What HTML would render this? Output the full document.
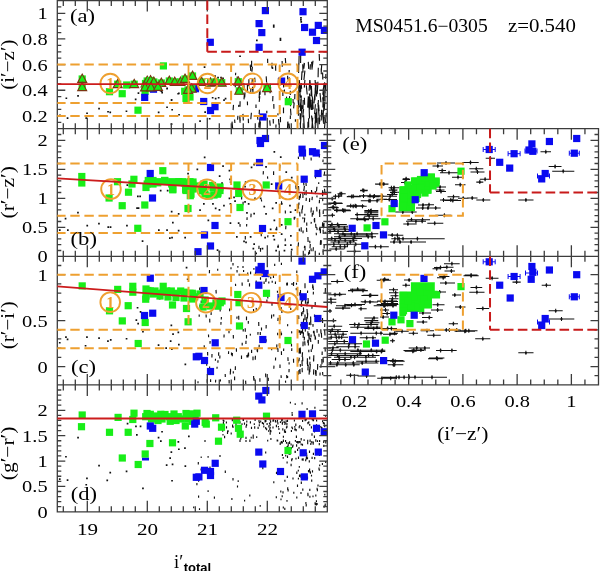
<!DOCTYPE html>
<html><head><meta charset="utf-8"><title>MS0451.6-0305 colour-magnitude diagrams</title><style>html,body{margin:0;padding:0;background:#fff;overflow:hidden}svg{display:block}</style></head><body>
<svg width="600" height="571" viewBox="0 0 600 571" font-family="Liberation Serif, serif">
<rect width="600" height="571" fill="#fff"/>
<path d="M65.5 97.4h1.7v1.7h-1.7zM77.2 95.0h1.7v1.7h-1.7zM98.2 107.7h1.7v1.7h-1.7zM107.2 110.9h1.7v1.7h-1.7zM109.4 111.5h1.7v1.7h-1.7zM86.2 112.4h1.7v1.7h-1.7zM125.6 110.4h1.7v1.7h-1.7zM134.8 98.6h1.7v1.7h-1.7zM66.7 117.2h1.7v1.7h-1.7zM85.4 117.2h1.7v1.7h-1.7zM59.1 114.5h1.7v1.7h-1.7zM203.7 66.2h1.7v1.7h-1.7zM214.2 75.2h1.7v1.7h-1.7zM217.2 76.7h1.7v1.7h-1.7zM220.2 76.7h1.7v1.7h-1.7zM222.2 77.4h1.7v1.7h-1.7zM160.8 90.2h1.7v1.7h-1.7zM166.2 87.9h1.7v1.7h-1.7zM177.3 92.9h1.7v1.7h-1.7zM170.7 99.2h1.7v1.7h-1.7zM166.2 106.4h1.7v1.7h-1.7zM157.8 111.5h1.7v1.7h-1.7zM171.3 108.9h1.7v1.7h-1.7zM178.2 113.9h1.7v1.7h-1.7zM204.3 111.2h1.7v1.7h-1.7zM211.8 96.9h1.7v1.7h-1.7zM214.8 97.7h1.7v1.7h-1.7zM217.8 96.9h1.7v1.7h-1.7zM223.2 99.2h1.7v1.7h-1.7zM224.7 97.7h1.7v1.7h-1.7zM199.2 120.2h1.7v1.7h-1.7zM208.8 117.9h1.7v1.7h-1.7zM170.7 123.2h1.7v1.7h-1.7zM137.6 92.2h1.7v1.7h-1.7zM159.7 89.7h1.7v1.7h-1.7zM161.3 91.8h1.7v1.7h-1.7zM166.3 87.6h1.7v1.7h-1.7zM178.0 92.6h1.7v1.7h-1.7zM170.8 98.9h1.7v1.7h-1.7zM272.9 24.4h1.7v1.7h-1.7zM272.9 26.1h1.7v1.7h-1.7zM279.6 37.8h1.7v1.7h-1.7zM279.6 39.4h1.7v1.7h-1.7zM256.0 39.6h1.7v1.7h-1.7zM239.2 55.4h1.7v1.7h-1.7zM300.1 17.1h1.7v1.7h-1.7zM300.1 19.1h1.7v1.7h-1.7zM300.4 21.1h1.7v1.7h-1.7zM77.1 211.7h1.7v1.7h-1.7zM64.7 217.7h1.7v1.7h-1.7zM58.9 229.2h1.7v1.7h-1.7zM67.0 229.2h1.7v1.7h-1.7zM86.4 224.7h1.7v1.7h-1.7zM98.1 222.8h1.7v1.7h-1.7zM107.4 226.3h1.7v1.7h-1.7zM109.7 226.3h1.7v1.7h-1.7zM126.1 224.7h1.7v1.7h-1.7zM136.2 207.2h1.7v1.7h-1.7zM137.7 207.2h1.7v1.7h-1.7zM137.0 195.6h1.7v1.7h-1.7zM139.3 195.6h1.7v1.7h-1.7zM126.5 184.3h1.7v1.7h-1.7zM141.7 240.3h1.7v1.7h-1.7zM158.0 229.2h1.7v1.7h-1.7zM166.2 229.2h1.7v1.7h-1.7zM159.8 189.7h1.7v1.7h-1.7zM166.8 189.7h1.7v1.7h-1.7zM170.8 210.7h1.7v1.7h-1.7zM177.8 213.1h1.7v1.7h-1.7zM172.0 221.7h1.7v1.7h-1.7zM177.8 229.8h1.7v1.7h-1.7zM169.0 237.2h1.7v1.7h-1.7zM171.2 236.8h1.7v1.7h-1.7zM184.3 236.8h1.7v1.7h-1.7zM187.2 172.7h1.7v1.7h-1.7zM203.8 156.6h1.7v1.7h-1.7zM273.5 151.1h1.7v1.7h-1.7zM279.9 156.2h1.7v1.7h-1.7zM196.5 168.5h1.7v1.7h-1.7zM222.2 165.3h1.7v1.7h-1.7zM228.6 169.8h1.7v1.7h-1.7zM218.8 175.2h1.7v1.7h-1.7zM229.2 178.6h1.7v1.7h-1.7zM229.8 181.2h1.7v1.7h-1.7zM250.7 166.6h1.7v1.7h-1.7zM253.3 163.8h1.7v1.7h-1.7zM265.2 166.1h1.7v1.7h-1.7zM285.4 171.2h1.7v1.7h-1.7zM290.9 176.7h1.7v1.7h-1.7zM221.2 182.2h1.7v1.7h-1.7zM244.2 185.8h1.7v1.7h-1.7zM270.8 183.2h1.7v1.7h-1.7zM203.0 203.0h1.7v1.7h-1.7zM212.1 203.0h1.7v1.7h-1.7zM199.2 209.3h1.7v1.7h-1.7zM214.8 207.5h1.7v1.7h-1.7zM218.6 209.0h1.7v1.7h-1.7zM223.1 204.8h1.7v1.7h-1.7zM228.6 197.5h1.7v1.7h-1.7zM229.6 203.0h1.7v1.7h-1.7zM233.2 196.5h1.7v1.7h-1.7zM234.2 200.2h1.7v1.7h-1.7zM244.2 201.1h1.7v1.7h-1.7zM247.8 203.0h1.7v1.7h-1.7zM254.2 197.5h1.7v1.7h-1.7zM259.8 197.5h1.7v1.7h-1.7zM263.4 205.7h1.7v1.7h-1.7zM271.8 207.5h1.7v1.7h-1.7zM275.3 202.0h1.7v1.7h-1.7zM280.8 203.0h1.7v1.7h-1.7zM289.1 204.8h1.7v1.7h-1.7zM289.8 211.2h1.7v1.7h-1.7zM246.1 212.1h1.7v1.7h-1.7zM253.3 212.7h1.7v1.7h-1.7zM265.2 213.1h1.7v1.7h-1.7zM207.5 219.5h1.7v1.7h-1.7zM229.6 222.2h1.7v1.7h-1.7zM237.8 222.2h1.7v1.7h-1.7zM273.5 219.5h1.7v1.7h-1.7zM269.8 228.6h1.7v1.7h-1.7zM275.3 228.6h1.7v1.7h-1.7zM280.8 224.1h1.7v1.7h-1.7zM272.6 235.1h1.7v1.7h-1.7zM273.5 238.7h1.7v1.7h-1.7zM280.8 233.2h1.7v1.7h-1.7zM290.0 235.1h1.7v1.7h-1.7zM236.0 236.0h1.7v1.7h-1.7zM243.2 240.6h1.7v1.7h-1.7zM245.2 241.5h1.7v1.7h-1.7zM249.8 236.0h1.7v1.7h-1.7zM253.3 243.2h1.7v1.7h-1.7zM252.5 247.8h1.7v1.7h-1.7zM261.6 247.8h1.7v1.7h-1.7zM264.3 236.8h1.7v1.7h-1.7zM216.7 249.3h1.7v1.7h-1.7zM218.6 250.7h1.7v1.7h-1.7zM277.2 246.1h1.7v1.7h-1.7zM284.5 244.2h1.7v1.7h-1.7zM283.6 249.8h1.7v1.7h-1.7zM290.0 244.2h1.7v1.7h-1.7zM290.9 248.8h1.7v1.7h-1.7zM293.8 216.7h1.7v1.7h-1.7zM294.6 209.3h1.7v1.7h-1.7zM275.3 249.8h1.7v1.7h-1.7zM255.3 252.5h1.7v1.7h-1.7zM185.7 266.8h1.7v1.7h-1.7zM186.8 278.4h1.7v1.7h-1.7zM65.1 336.3h1.7v1.7h-1.7zM66.7 338.6h1.7v1.7h-1.7zM86.1 336.3h1.7v1.7h-1.7zM98.2 337.2h1.7v1.7h-1.7zM84.7 344.9h1.7v1.7h-1.7zM107.1 340.3h1.7v1.7h-1.7zM109.9 339.1h1.7v1.7h-1.7zM125.7 337.9h1.7v1.7h-1.7zM136.7 306.9h1.7v1.7h-1.7zM139.7 311.1h1.7v1.7h-1.7zM135.5 319.3h1.7v1.7h-1.7zM137.3 322.8h1.7v1.7h-1.7zM142.1 330.9h1.7v1.7h-1.7zM158.8 297.8h1.7v1.7h-1.7zM157.7 344.2h1.7v1.7h-1.7zM165.3 347.3h1.7v1.7h-1.7zM170.5 324.6h1.7v1.7h-1.7zM172.2 333.3h1.7v1.7h-1.7zM177.5 331.6h1.7v1.7h-1.7zM178.0 343.8h1.7v1.7h-1.7zM169.8 340.3h1.7v1.7h-1.7zM171.0 348.4h1.7v1.7h-1.7zM184.5 363.6h1.7v1.7h-1.7zM58.9 341.9h1.7v1.7h-1.7zM77.2 436.8h1.7v1.7h-1.7zM65.1 455.9h1.7v1.7h-1.7zM98.2 464.8h1.7v1.7h-1.7zM109.4 471.8h1.7v1.7h-1.7zM125.7 470.6h1.7v1.7h-1.7zM86.1 477.6h1.7v1.7h-1.7zM66.7 479.2h1.7v1.7h-1.7zM106.4 479.5h1.7v1.7h-1.7zM58.9 478.3h1.7v1.7h-1.7zM142.1 487.6h1.7v1.7h-1.7zM85.4 483.9h1.7v1.7h-1.7zM126.7 422.8h1.7v1.7h-1.7zM135.1 425.6h1.7v1.7h-1.7zM139.7 425.6h1.7v1.7h-1.7zM136.0 434.0h1.7v1.7h-1.7zM157.7 436.8h1.7v1.7h-1.7zM160.0 440.3h1.7v1.7h-1.7zM161.2 430.9h1.7v1.7h-1.7zM170.5 451.2h1.7v1.7h-1.7zM169.3 457.3h1.7v1.7h-1.7zM165.8 464.3h1.7v1.7h-1.7zM171.7 463.6h1.7v1.7h-1.7zM177.5 441.0h1.7v1.7h-1.7zM178.0 448.4h1.7v1.7h-1.7zM184.1 447.3h1.7v1.7h-1.7zM184.5 465.2h1.7v1.7h-1.7zM188.0 435.6h1.7v1.7h-1.7zM171.2 479.9h1.7v1.7h-1.7z" fill="#111"/>
<path d="M302.0 71.4L301.5 80.0M311.6 61.7L312.1 69.6M300.7 54.0L300.6 63.0M319.2 54.0L319.5 60.7M304.9 70.6L303.9 80.0M298.8 63.3L298.6 72.9M304.2 62.9L303.9 67.1M310.4 64.2L310.1 69.6M304.5 63.1L303.8 68.8M321.7 64.5L321.2 72.4M325.9 74.0L325.7 78.7M318.3 67.7L318.1 77.3M321.2 68.5L321.3 74.3M322.6 72.5L322.8 79.5M299.1 55.9L298.9 64.7M302.7 64.2L303.0 72.4M308.3 61.9L308.7 68.9M313.0 60.8L312.2 67.7M325.0 122.5L324.5 128.0M321.6 110.1L321.2 120.5M315.4 104.3L314.6 114.0M309.4 93.5L310.7 104.3M324.8 101.8L324.3 110.4M299.2 80.0L298.8 88.7M308.6 118.2L308.7 127.4M304.9 80.0L304.3 87.6M312.7 117.6L311.9 128.0M322.5 112.8L323.6 123.7M318.9 114.0L319.8 121.8M324.6 82.2L325.2 93.3M310.5 101.0L311.4 109.9M311.7 116.0L312.4 123.8M322.7 97.4L323.7 106.9M318.4 100.0L318.1 106.7M317.9 81.8L317.2 94.1M323.2 88.5L323.8 101.2M312.0 99.7L312.2 110.0M306.3 85.4L307.2 94.5M315.1 80.0L315.8 91.6M324.0 83.7L322.8 94.7M316.0 89.7L316.6 96.5M301.3 99.2L300.6 111.0M303.7 118.1L304.1 126.5M298.8 94.2L299.0 100.6M300.2 122.8L300.5 128.0M299.1 86.5L298.1 98.0M303.6 109.1L302.7 117.2M325.8 84.6L325.6 89.9M315.3 112.7L315.1 118.6M298.5 96.0L299.2 107.1M323.0 110.3L323.5 122.2M311.5 85.7L311.0 96.0M301.4 95.5L300.3 107.5M314.8 94.3L314.0 103.4M325.0 87.5L324.8 97.4M298.8 103.7L298.2 109.8M298.8 84.9L299.0 90.6M311.5 115.5L313.0 128.0M304.4 97.8L304.6 104.8M315.8 113.1L315.2 123.7M310.1 102.7L309.6 107.8M309.8 80.0L309.1 90.8M301.0 85.3L300.6 92.2M312.5 98.6L312.7 106.0M303.6 115.3L304.3 128.0M310.7 99.7L309.6 109.4M310.0 102.0L309.4 108.4M320.0 93.0L320.9 102.2M315.3 87.5L314.9 100.3M298.7 110.0L298.4 115.8M321.6 109.7L321.5 114.8M309.4 100.0L309.6 106.7M299.6 89.7L300.5 97.6M300.1 113.0L300.2 119.5M309.1 96.7L308.8 107.7M301.2 83.0L301.6 88.7M316.5 117.5L315.3 128.0M316.5 111.9L316.5 122.7M308.3 96.2L307.7 107.6M312.3 96.6L313.2 109.2M324.3 116.4L323.9 123.8M311.5 88.2L311.9 96.7M324.3 102.4L323.2 113.9M308.0 121.8L307.9 128.0M299.2 80.0L300.6 92.2M316.4 82.5L315.9 89.9M316.8 108.4L316.8 116.9M300.8 99.7L301.5 112.3M301.0 99.4L300.4 110.2M323.2 96.8L322.9 107.4M326.3 112.8L325.5 122.4M309.9 80.0L310.8 89.8M303.2 100.1L303.0 108.9M317.9 117.4L317.9 128.0M324.7 90.4L325.1 101.4M319.2 117.5L319.4 124.3M309.1 105.6L309.5 118.4M297.8 97.0L298.8 107.6M315.9 116.6L316.5 121.7M317.9 103.0L319.0 115.2M301.2 113.6L300.4 124.7M318.6 104.9L319.1 111.4M302.1 105.2L301.6 113.6M247.4 101.4L247.5 105.3M272.6 67.0L272.7 69.0M248.9 79.3L248.8 86.3M286.6 96.6L286.2 101.8M273.2 119.0L273.4 123.6M275.6 64.9L275.7 70.7M251.6 60.7L251.6 67.0M278.5 119.0L279.0 124.6M257.5 115.6L257.9 119.8M289.2 69.9L289.1 72.6M294.9 94.1L294.7 99.3M264.9 91.6L265.0 95.3M269.7 120.4L270.2 125.8M287.8 122.6L287.5 128.0M287.9 121.5L288.0 128.0M278.4 78.0L278.4 84.1M250.2 64.6L250.8 70.9M237.9 115.7L237.6 119.7M251.4 112.8L250.8 119.2M272.0 62.8L271.9 68.4M289.0 123.5L289.5 128.0M252.4 66.7L251.9 71.7M245.0 92.4L244.7 97.4M234.6 119.5L234.9 123.0M290.3 90.8L290.3 95.1M273.8 103.9L273.9 108.7M293.0 99.0L293.2 103.2M247.4 84.3L247.5 91.1M267.6 58.8L267.7 62.9M233.5 104.9L233.1 110.1M272.9 95.9L272.7 101.3M278.0 113.3L277.9 115.4M276.0 124.5L275.9 127.8M270.6 87.1L270.5 90.9M256.0 104.6L256.0 108.1M282.1 60.9L282.3 65.7M252.3 78.9L252.0 84.9M244.4 93.9L244.0 99.4M253.0 86.9L252.9 93.0M287.6 75.8L287.7 79.5M289.6 96.1L289.4 99.2M266.2 76.4L266.6 82.5M243.8 83.1L244.0 89.1M284.5 89.4L284.4 92.1M283.6 83.7L283.6 87.4M259.5 91.7L259.1 98.3M232.0 121.6L232.6 128.0M260.4 121.4L260.0 128.0M280.4 117.0L280.5 122.3M250.9 88.9L250.7 92.0M270.5 83.7L270.0 89.7M290.5 108.6L291.0 115.2M290.4 104.2L290.5 106.3M243.2 85.0L243.2 90.3M259.0 122.4L258.8 127.5M248.3 118.7L248.5 123.1M254.7 77.6L255.0 82.3M242.9 113.9L243.3 120.5M285.3 58.0L285.7 63.1M235.2 83.9L235.3 87.2M259.8 96.1L259.2 101.9M235.7 72.7L235.5 75.3M295.4 119.3L295.4 121.8M252.5 86.8L252.6 90.5M270.2 90.3L270.1 93.3M240.1 101.2L240.0 106.8M237.2 76.5L237.2 80.4M282.8 90.1L282.9 96.1M260.0 90.3L260.1 94.8M259.4 109.8L259.2 114.1M266.8 110.8L266.8 113.2M259.8 118.5L259.6 125.2M290.4 115.5L290.3 118.9M239.8 115.7L240.2 121.0M283.5 107.6L283.5 113.3M238.8 104.9L238.6 106.9M282.4 64.3L282.2 66.8M289.2 77.4L289.3 79.6M239.7 117.3L240.1 122.7M294.2 102.4L293.6 108.4M304.7 191.7L304.5 194.8M299.7 211.7L300.0 216.5M319.5 199.8L319.3 203.3M302.7 192.2L302.9 194.7M321.3 240.3L321.1 244.6M306.5 227.8L306.8 232.0M322.6 190.2L322.7 193.9M312.3 196.8L312.0 200.1M324.2 244.8L324.1 248.4M323.3 223.8L323.6 228.4M312.3 213.1L312.2 216.8M302.7 205.2L302.3 209.6M299.3 228.5L299.3 231.2M311.3 207.5L311.0 212.5M309.6 198.3L309.5 202.1M307.9 236.9L308.0 239.7M323.4 192.1L323.3 194.1M319.5 227.8L319.4 230.4M302.9 217.2L303.0 219.1M322.9 250.8L323.3 254.9M298.4 203.8L298.6 208.7M309.4 250.1L309.6 253.9M306.3 197.8L306.1 201.0M308.8 251.9L308.5 254.8M299.3 195.7L299.2 200.0M306.2 190.3L306.1 195.3M303.9 189.2L303.8 191.1M317.0 195.5L316.9 197.4M305.0 253.8L305.0 256.0M319.7 212.2L319.7 217.1M304.8 213.8L304.8 215.7M305.0 246.0L305.0 250.5M299.0 202.5L298.8 205.1M304.6 245.8L304.4 248.0M324.0 223.1L323.9 228.1M323.1 229.6L323.3 233.9M311.7 191.3L311.9 193.7M323.1 249.3L323.2 252.2M320.4 228.8L320.4 233.2M316.2 232.7L316.4 235.3M324.5 188.8L325.0 193.7M316.9 186.8L316.5 191.5M325.2 231.7L325.1 233.7M315.6 223.8L316.0 227.9M304.4 186.0L303.9 190.8M322.4 191.9L322.7 196.3M322.7 222.2L322.4 226.8M316.7 206.8L316.9 211.5M311.3 221.9L311.1 223.8M314.6 217.9L314.7 222.5M301.9 209.3L301.9 213.5M298.5 242.4L298.1 246.9M313.3 210.5L313.1 214.8M304.7 217.6L304.3 222.5M301.2 227.2L301.2 231.8M310.3 243.9L310.0 248.2M322.6 198.3L322.8 201.1M309.7 240.7L309.9 243.1M303.0 194.8L302.9 198.1M313.4 247.2L313.0 251.3M306.7 222.5L306.8 225.8M311.5 190.0L311.6 192.6M307.9 237.2L308.1 242.1M316.8 227.3L317.1 230.1M311.0 248.4L311.2 251.2M320.1 227.3L319.9 230.5M319.7 209.4L319.4 213.3M300.5 193.9L300.2 198.3M323.3 210.2L323.2 213.9M315.2 191.0L315.5 194.1M303.1 230.4L303.0 233.2M298.5 186.0L298.8 190.8M320.6 240.1L320.3 244.9M314.2 218.8L314.5 222.5M319.3 252.7L319.3 254.9M315.3 174.9L315.6 178.5M318.7 182.3L318.7 184.1M324.6 171.5L324.3 175.3M311.1 157.4L311.2 160.4M298.3 156.6L298.5 159.0M319.6 154.0L319.3 157.5M315.2 153.7L315.4 155.5M303.7 155.8L304.0 159.7M306.0 183.0L306.2 186.0M303.6 182.2L303.9 185.5M323.1 159.5L322.9 162.1M302.1 151.1L302.1 153.6M285.3 238.4L285.2 241.2M240.0 223.9L240.1 226.7M261.2 233.9L261.3 236.3M281.5 201.2L281.7 204.2M251.1 213.6L250.9 217.2M285.9 225.6L285.7 229.2M245.3 236.0L245.3 239.6M245.4 181.3L245.3 184.5M294.2 217.4L294.3 219.7M260.5 248.0L260.5 251.8M276.6 226.7L276.9 230.3M241.7 196.3L241.6 199.4M273.6 171.3L273.6 175.0M246.7 224.1L246.6 226.6M267.5 176.4L267.7 178.7M280.0 165.0L279.6 168.5M259.0 245.7L258.9 248.9M261.4 199.4L261.6 201.5M243.1 201.8L243.0 205.2M295.8 185.3L296.1 189.3M278.1 244.6L278.3 247.3M285.3 210.6L285.4 213.4M263.4 171.1L263.2 174.5M267.9 235.3L267.7 237.4M247.1 217.3L247.0 219.9M307.2 301.6L306.9 306.3M313.0 324.0L313.0 326.7M299.1 330.1L299.0 332.8M310.0 361.7L309.8 364.7M315.6 369.9L315.5 374.5M325.4 288.1L325.2 293.6M301.9 298.3L302.1 301.9M303.1 341.6L303.0 346.3M313.4 291.8L313.3 294.5M317.0 329.1L317.1 332.7M310.6 316.6L310.8 321.8M304.7 341.2L305.0 345.5M318.6 315.1L318.2 321.0M309.7 356.4L309.7 359.4M299.1 348.3L299.1 353.5M322.5 318.1L322.6 323.0M314.0 330.7L314.4 336.1M311.2 349.3L311.3 352.0M316.2 370.6L316.0 376.0M308.8 349.7L308.8 352.3M302.6 298.7L302.8 301.4M301.5 312.2L301.7 316.1M300.1 330.6L300.4 335.0M321.0 364.3L320.9 367.7M308.2 364.6L307.9 370.4M302.9 310.9L302.9 314.2M314.5 314.4L314.5 316.9M308.3 339.8L308.4 345.6M312.6 344.4L312.3 349.3M323.1 356.9L323.3 362.4M309.0 326.9L309.0 329.8M299.8 292.2L299.7 295.4M307.6 290.5L307.5 293.0M300.8 323.9L300.9 326.5M315.2 302.0L315.2 305.4M308.0 298.0L308.4 303.5M311.1 334.4L311.0 337.2M307.7 313.1L307.4 318.5M298.8 370.3L298.5 374.6M313.0 285.7L313.4 290.0M322.2 351.4L322.1 354.9M302.6 356.8L302.8 361.2M307.0 309.0L307.4 314.3M321.8 359.0L322.0 364.3M304.5 336.8L304.2 340.5M298.7 315.5L298.8 319.0M324.6 329.7L325.0 335.5M324.8 323.6L324.7 326.9M303.4 307.4L303.7 312.1M321.4 333.0L321.6 337.8M300.2 347.5L300.5 353.2M318.9 333.7L319.1 336.8M307.4 358.3L307.3 364.2M309.4 369.6L309.1 374.6M301.4 301.1L301.7 306.8M302.0 360.2L302.2 366.1M307.9 339.8L307.7 342.7M325.0 347.3L325.3 351.6M310.3 363.9L310.0 369.3M305.0 316.9L305.1 320.2M305.2 328.7L305.4 331.6M307.8 331.3L308.1 335.8M309.8 367.9L309.8 372.1M312.8 284.4L312.6 288.4M298.1 359.6L298.1 362.7M318.3 340.1L318.3 343.7M313.5 358.5L313.6 361.4M305.0 314.4L305.0 319.6M313.8 355.3L313.7 361.0M315.1 335.5L315.2 339.8M310.5 337.9L310.8 342.0M317.7 364.0L317.5 369.8M313.8 369.2L313.5 374.6M301.5 330.8L301.3 333.5M299.9 348.4L300.2 353.7M302.5 352.3L302.2 357.1M322.6 372.0L322.8 375.3M309.0 333.1L309.3 339.1M302.6 329.1L302.5 333.4M303.7 318.5L303.3 323.5M313.5 330.7L313.5 333.3M315.4 336.8L315.6 339.6M320.1 372.5L320.0 375.4M299.2 357.8L299.0 361.3M309.9 366.8L309.7 372.2M302.1 367.9L302.3 372.3M300.5 290.0L300.5 294.9M299.9 369.1L300.1 373.9M300.3 364.1L300.4 366.8M310.6 320.7L310.9 325.1M305.6 299.3L305.4 303.7M301.1 303.8L301.0 306.5M306.8 317.1L306.6 322.3M312.1 305.1L311.9 308.8M305.0 283.2L305.0 288.3M303.5 332.1L303.1 337.9M320.8 329.2L321.0 333.4M308.8 335.3L309.2 340.2M307.5 361.1L307.6 366.1M309.4 322.3L309.3 325.0M220.4 379.4L220.5 381.5M206.5 301.7L206.4 305.7M261.5 327.6L261.5 330.4M217.1 366.8L217.0 368.8M199.9 304.8L200.0 307.5M235.5 283.7L235.6 286.1M204.2 345.2L204.3 347.8M231.5 352.4L231.5 355.3M287.3 341.3L287.2 343.5M291.6 331.2L291.7 333.4M255.4 355.8L255.3 359.5M233.3 371.3L233.3 373.4M207.6 352.1L207.7 355.4M281.5 332.9L281.5 335.1M250.3 333.7L250.4 335.6M248.3 353.7L248.2 356.0M199.2 314.4L199.2 316.8M235.4 366.3L235.3 370.0M237.2 291.0L237.3 294.3M218.0 360.2L217.9 362.7M273.7 314.3L273.7 316.5M221.0 322.1L220.9 324.8M256.3 307.9L256.2 309.9M208.5 334.6L208.6 337.2M248.1 353.6L247.9 357.5M199.7 287.6L199.7 290.3M271.7 314.6L271.5 318.5M280.8 296.9L280.6 300.6M293.5 358.7L293.6 362.7M215.7 379.8L215.5 382.5M258.0 331.9L257.9 334.7M210.1 340.9L210.0 343.7M241.5 355.6L241.5 359.0M237.0 316.5L236.9 318.8M242.1 282.4L242.2 285.7M258.5 267.3L258.5 269.9M207.2 379.2L207.2 382.7M267.8 296.3L267.8 298.6M271.6 348.4L271.7 350.2M287.9 357.2L288.1 361.0M220.1 308.4L220.2 311.4M234.6 376.6L234.6 380.3M259.9 378.2L259.9 381.7M281.7 295.5L281.8 298.1M281.8 310.6L281.9 313.0M281.4 351.2L281.5 355.1M279.3 343.6L279.3 346.2M246.5 334.9L246.5 338.6M204.8 356.9L204.8 359.3M209.6 366.4L209.6 368.8M277.6 332.8L277.7 335.3M238.7 315.8L238.8 319.7M272.0 302.2L272.0 305.8M280.1 316.8L280.2 320.3M236.3 348.3L236.5 351.8M289.1 362.3L289.1 364.4M265.8 279.2L265.9 282.1M287.6 375.9L287.6 377.9M283.7 348.6L283.6 351.1M289.1 368.9L289.0 372.2M280.0 364.5L280.0 367.9M229.6 308.6L229.6 311.2M249.5 283.3L249.5 286.6M213.8 303.3L213.8 306.0M275.5 281.6L275.4 283.9M215.5 358.7L215.4 360.7M253.0 356.6L253.0 360.2M230.4 371.0L230.3 374.5M253.6 376.0L253.8 380.0M211.2 312.3L211.1 315.0M273.4 274.3L273.5 278.0M258.7 322.1L258.8 325.9M286.7 375.0L286.8 378.3M246.5 316.5L246.5 320.2M228.6 351.3L228.5 354.1M280.9 331.6L281.0 335.5M290.7 307.8L290.8 310.1M274.0 365.6L273.8 368.8M237.0 269.9L237.1 272.6M232.4 353.0L232.3 356.2M266.1 278.3L266.2 280.5M210.6 379.3L210.6 382.0M293.6 282.0L293.5 286.0M257.6 348.2L257.5 352.2M291.8 348.2L291.7 351.0M221.4 316.9L221.3 319.5M278.1 317.8L277.9 321.0M212.0 353.9L211.9 357.6M201.2 300.4L201.2 303.0M253.5 308.9L253.6 312.1M275.6 357.4L275.5 360.5M281.3 307.2L281.3 310.9M260.3 331.9L260.3 335.1M255.2 357.1L255.3 359.7M243.2 328.9L243.2 331.6M268.2 292.7L268.3 294.8M206.8 362.3L206.7 365.8M261.0 302.6L260.9 306.3M209.5 269.9L209.4 273.3M229.1 380.1L229.2 383.5M255.0 347.7L255.0 349.5M230.5 368.8L230.6 371.5M198.0 381.2L198.0 383.2M245.6 380.6L245.8 384.0M287.7 324.1L287.6 326.2M268.3 377.8L268.2 381.0M257.1 349.1L257.2 351.5M217.7 268.8L217.7 270.7M266.9 299.5L266.9 302.1M224.1 334.5L224.0 337.6M218.7 352.3L218.6 355.7M277.9 348.3L278.0 352.0M246.9 355.1L247.0 357.6M206.1 314.5L206.2 317.4M265.6 373.5L265.8 377.2M259.2 344.7L259.1 347.5M276.9 344.4L276.8 346.5M219.9 355.5L219.8 358.6M266.1 339.3L266.1 341.7M296.3 287.9L296.3 290.2M281.1 375.2L281.2 377.9M209.7 318.8L209.8 322.5M242.2 342.8L242.2 345.6M285.5 380.6L285.6 382.8M291.5 343.7L291.5 346.6M246.0 340.7L245.9 343.9M296.9 305.8L296.8 308.8M260.5 277.3L260.5 279.8M229.0 331.1L229.0 333.2M276.7 345.4L276.9 349.3M245.2 328.3L245.3 331.8M251.6 349.7L251.6 353.0M248.3 321.0L248.3 323.8M277.4 290.7L277.5 292.8M248.5 352.5L248.6 356.3M254.1 377.9L254.1 381.1M216.0 289.9L216.2 293.5M233.3 335.1L233.4 338.4M225.2 374.1L225.3 377.1M266.2 325.0L266.1 328.4M270.2 426.7L270.2 428.5M222.7 429.3L222.7 431.8M279.6 432.3L279.6 434.1M295.2 428.2L295.2 430.6M246.8 420.5L246.8 422.6M283.4 435.8L283.4 437.8M232.6 424.5L232.6 426.9M265.9 420.0L265.9 422.0M251.2 436.7L251.2 438.6M313.5 419.2L313.5 421.3M224.4 427.5L224.4 430.0M284.1 420.7L284.1 422.9M243.1 419.0L243.1 420.8M223.8 419.9L223.8 422.0M265.7 427.0L265.7 429.3M282.3 421.8L282.3 424.1M227.6 430.6L227.6 432.9M249.9 439.4L249.9 442.0M295.4 439.9L295.4 441.8M226.5 426.3L226.5 428.6M302.6 420.0L302.6 422.0M282.8 428.3L282.8 430.4M281.7 419.0L281.7 421.4M267.1 422.9L267.1 425.0M231.2 432.6L231.2 434.4M224.6 435.7L224.6 438.2M295.8 423.5L295.8 425.9M246.0 439.9L246.0 442.0M311.4 426.3L311.4 428.6M309.7 424.1L309.7 425.8M240.0 439.4L240.0 442.0M223.2 419.5L223.2 421.3M285.6 440.0L285.6 442.0M280.4 421.3L280.4 423.0M294.4 419.5L294.4 421.6M301.5 426.6L301.5 429.1M296.4 435.5L296.4 438.0M232.3 419.0L232.3 421.2M287.5 419.7L287.5 422.1M223.4 422.0L223.4 424.1M262.4 421.9L262.4 424.0M277.7 439.8L277.7 441.5M314.5 430.4L314.5 432.6M316.6 419.4L316.6 421.6M253.2 434.5L253.2 436.8M294.8 428.4L294.8 430.5M227.5 431.8L227.5 433.9M246.0 436.8L246.0 439.1M313.1 419.0L313.1 421.2M292.5 427.5L292.5 429.2M285.2 422.3L285.2 424.0M270.9 430.5L270.9 432.2M256.7 436.2L256.7 437.9M283.4 439.4L283.4 442.0M233.0 426.1L233.0 428.0M242.0 423.2L242.0 425.0M319.6 440.0L319.6 442.0M270.6 430.0L270.6 432.0M246.6 423.8L246.6 426.0M267.7 439.8L267.7 441.6M305.2 419.4L305.2 421.3M284.9 423.2L284.9 425.0M253.2 436.1L253.2 438.7M315.8 439.2L315.8 441.7M322.6 420.2L322.6 422.2M284.8 429.3L284.8 431.3M263.5 422.8L263.5 424.8M285.5 431.0L285.5 433.1M263.8 425.5L263.8 427.4M241.6 434.2L241.6 436.5M287.0 425.7L287.0 427.8M301.2 438.1L301.2 440.5M278.4 425.9L278.4 427.6M270.9 437.9L270.9 439.9M275.5 420.1L275.5 422.5M277.5 419.8L277.5 421.5M226.4 421.5L226.4 423.4M307.7 439.7L307.7 442.0M314.4 429.7L314.4 431.6M259.3 424.2L259.3 426.2M241.0 431.8L241.0 434.3M223.0 433.9L223.0 435.6M312.0 433.3L312.0 435.8M250.4 421.3L250.4 423.4M246.1 425.4L246.1 427.8M284.5 430.3L284.5 432.8M241.4 435.8L241.4 438.1M236.0 422.8L236.0 424.9M244.5 422.5L244.5 424.8M310.1 439.5L310.1 442.0M273.6 419.2L273.6 421.6M270.2 432.3L270.2 434.8M317.5 440.2L317.5 442.0M314.4 435.4L314.4 437.9M277.2 439.4L277.2 441.5M323.4 422.1L323.4 423.9M282.4 422.4L282.4 424.8M235.5 425.0L235.5 426.7M303.1 428.2L303.1 430.7M240.0 421.2L240.0 423.4M291.4 429.9L291.4 432.1M304.1 439.3L304.1 441.1M321.9 427.1L321.9 429.1M240.8 437.4L240.8 439.6M322.3 430.0L322.3 431.9M320.8 426.1L320.8 427.8M228.1 430.2L228.1 432.1M243.4 419.0L243.4 421.1M254.3 423.3L254.3 425.1M319.4 426.4L319.4 428.6M306.3 457.2L306.3 459.4M317.4 489.0L317.4 491.3M304.0 451.3L304.0 453.2M325.8 441.0L325.8 443.5M297.6 448.8L297.6 451.1M311.5 474.7L311.5 476.5M325.2 503.6L325.2 505.9M280.2 442.4L280.2 445.0M296.8 496.4L296.8 498.4M300.1 441.0L300.1 443.2M287.2 446.1L287.2 448.2M302.8 488.4L302.8 490.7M319.3 443.1L319.3 445.3M307.7 441.8L307.7 444.2M287.7 487.3L287.7 489.9M299.0 447.1L299.0 449.1M288.2 442.2L288.2 444.3M309.8 488.7L309.8 491.1M296.0 457.8L296.0 459.5M295.3 450.9L295.3 452.7M306.8 454.6L306.8 457.1M291.1 463.7L291.1 466.2M307.7 441.0L307.7 443.1M298.5 456.6L298.5 458.9M302.5 443.7L302.5 445.8M299.1 441.0L299.1 442.7M282.3 441.6L282.3 443.4M325.7 461.0L325.7 463.1M303.1 458.3L303.1 460.7M312.1 456.8L312.1 459.1M287.1 446.6L287.1 448.8M309.6 468.5L309.6 470.9M317.1 503.0L317.1 505.1M313.0 495.6L313.0 497.3M315.3 502.7L315.3 505.3M310.8 442.8L310.8 445.0M288.8 452.6L288.8 454.4M289.6 441.3L289.6 443.9M301.3 481.6L301.3 483.9M299.5 474.7L299.5 476.9M296.8 471.6L296.8 473.9M308.0 493.9L308.0 496.3M283.2 457.1L283.2 458.8M291.7 458.9L291.7 461.3M293.0 477.4L293.0 479.5M292.1 458.1L292.1 460.1M302.2 458.4L302.2 460.5M311.7 479.4L311.7 481.8M316.5 503.0L316.5 505.6M283.0 491.2L283.0 493.6M295.1 450.8L295.1 453.1M293.0 444.6L293.0 446.5M316.4 500.3L316.4 502.2M323.8 444.7L323.8 446.9M324.8 493.7L324.8 495.4M319.0 467.5L319.0 469.7M315.1 502.2L315.1 504.2M311.8 441.0L311.8 443.2M298.3 469.8L298.3 471.6M307.9 492.8L307.9 495.4M322.4 462.9L322.4 464.9M306.6 452.4L306.6 454.3M312.5 470.2L312.5 472.5M288.1 489.0L288.1 491.4M305.7 459.3L305.7 461.2M287.0 499.9L287.0 501.8M306.2 504.1L306.2 506.5M297.3 441.0L297.3 442.7M323.7 441.0L323.7 442.9M296.6 444.2L296.6 446.8M307.5 457.3L307.5 459.3M287.5 455.6L287.5 458.0M315.8 494.5L315.8 496.4M306.7 456.7L306.7 458.8M298.0 441.3L298.0 443.8M284.9 479.8L284.9 481.7M309.9 495.7L309.9 497.8M308.5 470.1L308.5 472.3M287.3 475.7L287.3 478.1M309.3 460.2L309.3 462.4M290.0 452.5L290.0 455.1M319.7 464.5L319.7 466.2M280.8 490.4L280.8 492.4M313.4 452.8L313.4 455.1M287.9 445.4L287.9 447.3M291.4 447.0L291.4 449.2M299.3 466.0L299.3 467.7M281.3 441.0L281.3 443.4M285.7 454.7L285.7 456.4M310.4 471.3L310.4 473.8M282.4 454.0L282.4 456.1M281.6 471.7L281.6 473.9M296.8 441.0L296.8 442.9M301.2 443.5L301.2 445.2M286.5 441.9L286.5 443.7M317.1 487.7L317.1 489.9M314.7 457.1L314.7 459.3M309.2 470.1L309.2 472.4M289.8 449.9L289.8 452.2M319.5 453.7L319.5 456.0M293.8 491.8L293.8 493.7M281.3 470.3L281.3 472.4M318.0 484.4L318.0 486.4M287.1 461.4L287.1 463.4M292.6 445.5L292.6 447.7M305.9 501.9L305.9 504.1M309.5 450.4L309.5 452.9M301.1 475.3L301.1 477.9M297.5 484.5L297.5 486.9M313.2 442.2L313.2 444.8M300.0 474.2L300.0 476.6M313.3 441.6L313.3 443.3M301.0 450.2L301.0 452.5M298.4 477.8L298.4 479.6M291.1 443.4L291.1 445.5M307.5 476.5L307.5 478.9M324.1 505.6L324.1 507.7M319.3 469.0L319.3 470.8M301.0 492.1L301.0 494.0M288.2 443.9L288.2 446.0M258.1 426.8L258.1 428.9M270.6 420.5L270.6 422.7M273.0 426.6L273.0 428.6M259.0 420.0L259.0 422.3M269.8 428.2L269.8 430.3M291.9 426.4L291.9 428.2M259.4 421.8L259.4 423.6M324.3 422.5L324.3 424.8M296.2 429.1L296.2 431.3M294.8 426.0L294.8 427.8M316.5 424.3L316.5 426.1M266.6 428.2L266.6 430.2M312.2 418.3L312.2 420.2M306.3 418.6L306.3 420.6M286.5 426.6L286.5 428.6M286.9 423.1L286.9 425.2M286.1 420.2L286.1 422.5M255.1 418.9L255.1 421.1M251.5 426.7L251.5 429.0M276.4 424.8L276.4 427.2M273.0 419.6L273.0 421.7M269.5 422.6L269.5 424.3M324.7 425.3L324.7 427.2M277.2 420.7L277.2 422.4M265.1 420.1L265.1 422.4M268.9 425.3L268.9 427.6M307.9 422.1L307.9 424.2M321.6 427.6L321.6 429.6M277.9 422.2L277.9 424.6M308.8 421.2L308.8 423.6M268.8 430.0L268.8 432.0M270.0 418.5L270.0 420.4M260.7 420.6L260.7 422.6M278.9 428.1L278.9 429.9M282.3 418.9L282.3 420.7M305.1 419.0L305.1 421.1M299.2 426.2L299.2 428.2M299.9 424.9L299.9 426.7M270.2 423.4L270.2 425.8M254.7 426.3L254.7 428.7M233.0 478.0L233.0 480.4M238.2 480.2L238.2 482.0M249.8 494.6L249.8 496.4M198.6 495.6L198.6 497.8M283.3 506.5L283.3 508.6M205.0 440.0L205.0 442.1M208.1 456.1L208.1 457.8M231.9 497.9L231.9 500.0M237.5 485.4L237.5 487.4M284.8 507.7L284.8 510.0M220.0 455.1L220.0 457.0M262.8 466.9L262.8 469.2M281.0 498.5L281.0 500.2M276.5 471.7L276.5 474.1M196.9 482.9L196.9 485.2M198.3 462.1L198.3 464.5M201.2 456.4L201.2 458.1M265.7 451.4L265.7 453.5M208.1 490.3L208.1 492.1M201.1 468.5L201.1 470.4M282.2 495.3L282.2 497.2M210.0 466.5L210.0 468.7M199.5 508.2L199.5 510.0M263.4 462.1L263.4 464.0M198.6 479.9L198.6 481.7M225.3 470.5L225.3 472.9M244.6 499.7L244.6 501.6M276.3 496.3L276.3 498.2M260.2 504.9L260.2 506.7M273.8 481.2L273.8 483.2M193.7 506.5L193.7 508.3M214.4 496.6L214.4 498.7M248.1 279.3L248.1 281.9M243.0 266.0L243.0 267.9M281.4 262.7L281.4 265.1M250.6 271.6L250.6 274.3M231.0 267.3L231.0 269.2M286.7 282.8L286.7 285.6M296.5 282.8L296.5 284.8M264.1 281.4L264.1 283.9M255.5 271.8L255.5 273.9M287.4 282.5L287.4 285.4M268.8 281.5L268.8 283.4M261.0 264.3L261.0 266.3M247.7 272.5L247.7 275.0M239.2 273.7L239.2 275.7M243.6 270.1L243.6 271.9M296.8 270.4L296.8 273.0M233.0 262.9L233.0 265.6M274.7 263.7L274.7 265.9M292.0 283.1L292.0 285.1M256.2 280.6L256.2 282.4M272.2 280.7L272.2 282.7M270.7 276.7L270.7 278.8M253.9 267.9L253.9 269.8M237.9 265.9L237.9 267.7M268.9 275.4L268.9 277.2M307.1 408.1L307.1 410.1M290.4 401.7L290.4 403.5M314.9 406.8L314.9 408.8M295.2 403.2L295.2 405.0M292.1 412.0L292.1 413.7M302.1 402.2L302.1 404.4M292.2 414.1L292.2 416.0M325.5 414.9L325.5 416.7" stroke="#111" stroke-width="1.15" fill="none"/>
<path d="M375.0 184.0H388.5M381.8 182.0V186.0M360.0 190.7H367.5M363.8 188.7V192.7M337.5 193.7H345.7M341.6 191.7V195.7M333.0 196.3H338.0M335.5 194.3V198.3M348.0 196.3H358.5M353.2 194.3V198.3M359.0 195.7H381.0M370.0 193.7V197.7M367.5 196.7H379.5M373.5 194.7V198.7M361.5 200.8H376.5M369.0 198.8V202.8M328.5 198.7H336.0M332.2 196.7V200.7M328.5 203.5H342.7M335.6 201.5V205.5M346.5 206.2H366.0M356.2 204.2V208.2M328.5 207.7H338.0M333.2 205.7V209.7M336.0 210.7H351.0M343.5 208.7V212.7M364.5 211.0H376.5M370.5 209.0V213.0M376.5 199.3H387.0M381.8 197.3V201.3M388.5 187.7H399.0M393.8 185.7V189.7M389.0 190.0H397.5M393.2 188.0V192.0M390.0 192.2H399.0M394.5 190.2V194.2M387.0 194.5H397.5M392.2 192.5V196.5M402.7 178.7H409.5M406.1 176.7V180.7M402.0 182.5H408.0M405.0 180.5V184.5M437.0 163.0H455.0M446.0 161.0V165.0M432.5 166.0H443.0M437.8 164.0V168.0M438.5 170.5H446.0M442.2 168.5V172.5M440.0 172.7H458.0M449.0 170.7V174.7M452.0 177.2H464.0M458.0 175.2V179.2M455.0 184.7H465.5M460.2 182.7V186.7M434.0 187.0H446.0M440.0 185.0V189.0M435.5 190.0H444.5M440.0 188.0V192.0M436.0 191.5H446.0M441.0 189.5V193.5M447.5 196.7H459.5M453.5 194.7V198.7M444.5 200.5H461.0M452.8 198.5V202.5M458.0 198.2H468.5M463.2 196.2V200.2M416.0 208.0H440.0M428.0 206.0V210.0M418.0 205.0H428.0M423.0 203.0V207.0M402.5 179.5H410.0M406.2 177.5V181.5M401.0 182.5H410.0M405.5 180.5V184.5M389.0 187.7H399.5M394.2 185.7V189.7M380.0 184.0H387.5M383.8 182.0V186.0M462.3 162.5H478.7M470.5 160.5V164.5M469.3 168.8H483.3M476.3 166.8V170.8M470.5 171.9H484.5M477.5 169.9V173.9M479.8 179.3H490.3M485.1 177.3V181.3M476.3 182.1H483.3M479.8 180.1V184.1M485.7 158.3H495.0M490.4 156.3V160.3M467.0 198.0H477.5M472.2 196.0V200.0M476.3 199.9H490.3M483.3 197.9V201.9M518.3 199.9H533.5M525.9 197.9V201.9M540.5 151.8H551.0M545.8 149.8V153.8M548.7 166.5H561.5M555.1 164.5V168.5M552.2 171.2H574.3M563.2 169.2V173.2M368.7 246.7H382.0M375.4 244.7V248.7M463.5 275.8H478.7M471.1 273.8V277.8M485.7 278.2H498.5M492.1 276.2V280.2M470.5 287.5H482.2M476.4 285.5V289.5M469.3 292.2H484.5M476.9 290.2V294.2M476.3 308.5H489.2M482.8 306.5V310.5M460.0 330.7H477.5M468.8 328.7V332.7M475.2 338.8H490.3M482.8 336.8V340.8M518.3 352.8H533.5M525.9 350.8V354.8M548.7 310.8H562.7M555.7 308.8V312.8M548.7 319.0H574.3M561.5 317.0V321.0M541.7 285.2H551.0M546.4 283.2V287.2M512.5 282.1H520.7M516.6 280.1V284.1M331.0 281.5H343.6M337.3 279.5V283.5M350.0 289.2H365.3M357.6 287.2V291.2M333.4 294.3H346.0M339.7 292.3V296.3M361.4 295.5H378.0M369.7 293.5V297.5M376.7 280.2H390.8M383.8 278.2V282.2M336.0 305.7H353.8M344.9 303.7V307.7M345.0 304.5H365.0M355.0 302.5V306.5M362.0 302.0H378.0M370.0 300.0V304.0M376.7 304.5H398.4M387.5 302.5V306.5M403.5 350.4H424.0M413.8 348.4V352.4M429.0 358.0H444.4M436.7 356.0V360.0M383.0 360.6H403.5M393.2 358.6V362.6M357.6 375.9H375.5M366.6 373.9V377.9M383.0 377.2H447.0M415.0 375.2V379.2M439.0 330.0H459.7M449.4 328.0V332.0M454.6 331.3H475.0M464.8 329.3V333.3M434.0 267.5H447.0M440.5 265.5V269.5M444.0 263.7H459.7M451.9 261.7V265.7M439.2 276.4H449.4M444.3 274.4V278.4M464.7 275.1H477.5M471.1 273.1V277.1M328.2 202.9H342.2M334.2 200.9V204.9M346.8 205.8H353.7M350.7 203.8V207.8M350.7 205.8H364.3M355.2 203.8V207.8M328.2 207.6H338.7M333.6 205.6V209.6M334.0 210.5H342.5M336.8 208.5V212.5M339.5 210.5H350.3M344.9 208.5V212.5M364.3 211.1H378.3M368.7 209.1V213.1M364.3 212.8H378.3M370.9 210.8V214.8M355.0 214.6H361.6M357.2 212.6V216.6M358.6 214.6H378.3M367.8 212.6V216.6M328.0 215.2H335.0M332.4 213.2V217.2M364.3 216.3H378.3M369.2 214.3V218.3M350.3 218.7H360.8M357.4 216.7V220.7M357.8 218.7H369.9M364.2 216.7V220.7M366.9 218.7H380.7M373.2 216.7V220.7M356.0 219.8H369.0M365.0 217.8V221.8M328.0 224.5H334.0M331.9 222.5V226.5M331.0 224.5H346.8M337.6 222.5V226.5M328.0 226.3H335.2M330.5 224.3V228.3M332.2 226.3H348.0M338.9 224.3V228.3M328.0 228.0H343.3M333.7 226.0V230.0M340.3 228.0H348.0M344.4 226.0V230.0M328.0 229.8H342.6M334.6 227.8V231.8M339.6 229.8H350.3M345.2 227.8V231.8M328.0 231.5H334.3M330.0 229.5V233.5M331.3 231.5H349.0M338.1 229.5V233.5M334.0 233.8H350.9M343.0 231.8V235.8M347.9 233.8H355.0M351.3 231.8V235.8M352.0 233.8H364.2M357.1 231.8V235.8M361.2 233.8H378.3M371.8 231.8V235.8M338.7 235.0H350.2M344.8 233.0V237.0M347.2 235.0H361.4M354.4 233.0V237.0M358.4 235.0H371.3M366.8 233.0V237.0M334.0 236.8H349.3M339.3 234.8V238.8M346.3 236.8H364.3M354.7 234.8V238.8M361.3 236.8H372.8M368.2 234.8V238.8M369.8 236.8H376.0M372.1 234.8V238.8M328.0 238.5H334.5M331.7 236.5V240.5M331.5 238.5H346.2M340.4 236.5V240.5M343.2 238.5H362.0M353.2 236.5V240.5M328.0 240.3H340.2M335.0 238.3V242.3M337.2 240.3H352.1M345.2 238.3V242.3M349.1 240.3H357.3M353.5 238.3V242.3M330.5 242.0H343.5M338.8 240.0V244.0M340.5 242.0H355.0M350.3 240.0V244.0M328.0 244.3H345.8M333.8 242.3V246.3M342.8 244.3H350.8M347.4 242.3V246.3M347.8 244.3H362.0M355.7 242.3V246.3M331.7 246.7H345.4M340.3 244.7V248.7M342.4 246.7H348.0M344.7 244.7V248.7M329.3 249.0H344.5M336.2 247.0V251.0M346.8 251.3H360.8M354.7 249.3V253.3M377.2 246.7H388.8M380.8 244.7V248.7M387.7 235.0H397.0M392.2 233.0V237.0M375.4 184.1H388.3M380.1 182.1V186.1M360.3 190.2H367.8M362.9 188.2V192.2M337.5 193.7H345.7M340.2 191.7V195.7M333.4 196.2H342.2M338.7 194.2V198.2M346.8 196.6H360.8M351.7 194.6V198.6M359.7 196.0H368.1M363.5 194.0V198.0M365.1 196.0H379.5M374.4 194.0V198.0M379.5 196.2H385.8M382.5 194.2V198.2M382.8 196.2H397.0M390.2 194.2V198.2M360.8 200.7H375.8M370.2 198.7V202.7M372.8 200.7H379.5M377.1 198.7V202.7M384.0 199.5H397.0M389.3 197.5V201.5M328.2 203.0H342.2M334.7 201.0V205.0M346.8 206.3H356.6M353.2 204.3V208.3M353.6 206.3H366.7M362.5 204.3V208.3M330.5 207.1H337.5M333.0 205.1V209.1M334.0 210.0H341.0M336.7 208.0V212.0M338.0 210.0H350.3M342.8 208.0V212.0M364.3 210.6H378.3M371.2 208.6V212.6M388.8 190.2H397.0M393.2 188.2V192.2M390.0 192.5H397.0M392.8 190.5V194.5M389.0 187.8H397.0M391.4 185.8V189.8M424.7 204.7H434.0M429.0 202.7V206.7M416.7 208.0H428.1M422.7 206.0V210.0M425.1 208.0H440.7M435.7 206.0V210.0M395.3 212.0H410.1M402.8 210.0V214.0M407.1 212.0H416.7M412.3 210.0V214.0M435.3 215.3H451.3M444.4 213.3V217.3M407.3 219.7H413.6M411.5 217.7V221.7M410.6 219.7H430.0M422.5 217.7V221.7M406.0 221.3H422.0M415.9 219.3V223.3M419.0 221.3H426.0M422.2 219.3V223.3M427.3 223.3H443.3M434.7 221.3V225.3M403.3 224.0H416.7M407.9 222.0V226.0M390.0 235.3H403.3M397.4 233.3V237.3M391.3 238.7H399.6M394.9 236.7V240.7M396.6 238.7H399.9M397.7 236.7V240.7M396.9 238.7H404.2M399.1 236.7V240.7M401.2 238.7H406.3M403.0 236.7V240.7M403.3 238.7H444.7M417.4 236.7V240.7M390.0 242.0H396.2M394.0 240.0V244.0M393.2 242.0H405.7M400.0 240.0V244.0M402.7 242.0H426.0M411.1 240.0V244.0M440.0 200.0H448.0M443.5 198.0V202.0M445.0 200.0H458.0M450.8 198.0V202.0M348.0 290.6H354.9M352.4 288.6V292.6M351.9 290.6H367.8M363.0 288.6V292.6M328.2 294.7H342.2M335.0 292.7V296.7M363.2 295.3H378.3M370.7 293.3V297.3M328.2 299.3H336.3M330.9 297.3V301.3M360.8 301.7H373.7M365.2 299.7V303.7M377.2 301.1H386.7M381.1 299.1V303.1M383.7 301.1H397.0M392.1 299.1V303.1M328.2 302.3H336.3M331.2 300.3V304.3M346.8 305.2H362.0M351.5 303.2V307.2M373.7 305.8H393.8M384.0 303.8V307.8M390.8 305.8H397.0M393.0 303.8V307.8M335.2 308.1H350.3M343.0 306.1V310.1M358.5 308.7H366.7M361.0 306.7V310.7M328.0 311.0H332.0M330.0 309.0V313.0M364.3 318.0H378.3M374.0 316.0V320.0M328.2 320.6H336.3M333.4 318.6V322.6M364.3 320.6H378.3M372.4 318.6V322.6M365.5 322.7H379.5M371.2 320.7V324.7M349.2 324.4H358.2M354.7 322.4V326.4M355.2 324.4H362.4M358.9 322.4V326.4M359.4 324.4H378.3M371.0 322.4V326.4M328.2 326.2H342.2M334.2 324.2V328.2M350.3 327.3H360.8M357.6 325.3V329.3M357.8 327.3H374.0M368.2 325.3V329.3M371.0 327.3H380.7M377.0 325.3V329.3M364.3 328.5H388.1M373.6 326.5V330.5M385.1 328.5H390.0M387.6 326.5V330.5M387.0 328.5H397.0M391.4 326.5V330.5M328.2 329.7H341.0M332.2 327.7V331.7M328.2 331.4H334.0M330.6 329.4V333.4M331.0 331.4H348.0M337.9 329.4V333.4M350.3 333.2H372.9M361.1 331.2V335.2M369.9 333.2H379.4M376.3 331.2V335.2M376.4 333.2H383.0M381.0 331.2V335.2M328.2 334.3H343.8M335.2 332.3V336.3M340.8 334.3H346.8M343.1 332.3V336.3M328.2 337.3H336.4M331.3 335.3V339.3M333.4 337.3H348.0M339.0 335.3V339.3M359.7 337.8H370.4M366.7 335.8V339.8M367.4 337.8H376.0M372.9 335.8V339.8M383.0 334.3H397.0M389.9 332.3V336.3M328.2 337.3H341.4M336.4 335.3V339.3M338.4 337.3H348.0M341.6 335.3V339.3M328.2 341.4H341.5M337.0 339.4V343.4M338.5 341.4H348.0M344.3 339.4V343.4M328.2 343.8H346.0M334.8 341.8V345.8M343.0 343.8H353.1M349.2 341.8V345.8M350.1 343.8H362.0M355.2 341.8V345.8M336.3 346.7H354.1M348.6 344.7V348.7M351.1 346.7H359.7M355.1 344.7V348.7M328.2 347.8H338.7M333.0 345.8V349.8M328.2 350.2H339.9M332.4 348.2V352.2M336.9 350.2H342.0M340.3 348.2V352.2M339.0 350.2H369.3M357.9 348.2V352.2M366.3 350.2H380.2M371.3 348.2V352.2M377.2 350.2H385.3M382.3 348.2V352.2M350.3 351.5H373.5M360.5 349.5V353.5M370.5 351.5H382.3M376.6 349.5V353.5M379.3 351.5H385.3M381.4 349.5V353.5M328.2 353.7H334.1M331.5 351.7V355.7M331.1 353.7H358.7M345.2 351.7V355.7M355.7 353.7H362.0M360.0 351.7V355.7M328.2 355.4H352.5M337.5 353.4V357.4M349.5 355.4H369.5M357.5 353.4V357.4M366.5 355.4H371.4M368.5 353.4V357.4M368.4 355.4H379.5M372.8 353.4V357.4M334.0 357.2H348.3M339.0 355.2V359.2M345.3 357.2H353.7M350.9 355.2V359.2M350.7 357.2H359.4M354.6 355.2V359.2M356.4 357.2H376.0M365.9 355.2V359.2M331.7 359.5H343.4M339.4 357.5V361.5M340.4 359.5H350.3M345.0 357.5V361.5M356.2 361.3H375.7M366.0 359.3V363.3M372.7 361.3H379.5M376.2 359.3V363.3M328.2 363.0H334.5M330.5 361.0V365.0M331.5 363.0H352.2M337.7 361.0V365.0M349.2 363.0H355.7M353.3 361.0V365.0M352.7 363.0H378.3M362.2 361.0V365.0M328.2 364.8H344.8M336.9 362.8V366.8M341.8 364.8H350.7M345.7 362.8V366.8M347.7 364.8H359.7M353.8 362.8V366.8M387.7 360.7H397.0M392.6 358.7V362.7M387.7 364.8H397.0M393.4 362.8V366.8M346.3 375.3H358.5M350.5 373.3V377.3M377.2 378.2H389.3M382.0 376.2V380.2M386.3 378.2H397.0M390.7 376.2V380.2M416.7 322.0H427.3M423.2 320.0V324.0M448.7 323.7H458.0M453.4 321.7V325.7M438.0 330.0H451.8M446.3 328.0V332.0M448.8 330.0H460.7M456.7 328.0V332.0M420.7 330.7H434.0M427.0 328.7V332.7M460.7 330.7H470.0M465.8 328.7V332.7M395.3 331.3H408.7M402.0 329.3V333.3M408.7 333.3H418.0M413.4 331.3V335.3M390.0 333.3H398.0M394.6 331.3V335.3M427.3 335.3H440.7M433.7 333.3V337.3M390.0 340.7H395.0M392.6 338.7V342.7M408.7 348.0H420.6M416.7 346.0V350.0M417.6 348.0H430.0M424.8 346.0V350.0M411.3 350.0H426.0M420.9 348.0V352.0M404.7 351.3H416.7M412.8 349.3V353.3M436.0 350.4H444.8M440.6 348.4V352.4M441.8 350.4H456.7M451.9 348.4V352.4M428.0 358.7H442.7M437.3 356.7V360.7M390.0 361.3H404.7M395.2 359.3V363.3M390.0 364.7H403.3M394.6 362.7V366.7M391.3 377.3H400.1M396.3 375.3V379.3M397.1 377.3H400.1M399.0 375.3V379.3M397.1 377.3H407.7M404.1 375.3V379.3M404.7 377.3H416.9M409.1 375.3V379.3M413.9 377.3H444.7M432.0 375.3V379.3M432.5 268.7H440.0M436.7 266.7V270.7M443.0 267.2H453.5M446.8 265.2V269.2M444.5 271.0H455.0M451.4 269.0V273.0M437.0 277.7H446.0M443.2 275.7V279.7M440.0 283.0H455.0M445.8 281.0V285.0M404.0 280.0H411.5M409.1 278.0V282.0M402.5 285.2H410.0M405.9 283.2V287.2M389.0 289.7H398.0M393.5 287.7V291.7M389.0 292.7H398.5M395.6 290.7V294.7M390.5 295.7H398.5M395.6 293.7V297.7M389.0 298.7H398.5M392.5 296.7V300.7M380.0 301.5H389.8M385.0 299.5V303.5M386.8 301.5H398.0M391.7 299.5V303.5M381.0 303.5H388.3M384.1 301.5V305.5M385.3 303.5H398.0M392.8 301.5V305.5M380.0 305.5H396.0M384.9 303.5V307.5M380.0 279.2H389.0M384.7 277.2V281.2M434.0 292.0H446.0M439.7 290.0V294.0M452.0 295.0H461.0M454.8 293.0V297.0M432.5 304.7H444.5M437.7 302.7V306.7M431.0 310.0H443.0M437.6 308.0V312.0M455.0 307.0H465.5M460.3 305.0V309.0M419.0 313.0H431.0M422.9 311.0V315.0M422.0 317.5H432.5M429.3 315.5V319.5M380.0 310.0H389.0M385.5 308.0V312.0M381.0 313.5H390.0M387.2 311.5V315.5M380.0 317.0H389.0M383.1 315.0V319.0" stroke="#111" stroke-width="1.05" fill="none"/><path d="M380.9 183.1h1.8v1.8h-1.8zM362.9 189.8h1.8v1.8h-1.8zM340.7 192.8h1.8v1.8h-1.8zM334.6 195.4h1.8v1.8h-1.8zM352.4 195.4h1.8v1.8h-1.8zM369.1 194.8h1.8v1.8h-1.8zM372.6 195.8h1.8v1.8h-1.8zM368.1 199.9h1.8v1.8h-1.8zM331.4 197.8h1.8v1.8h-1.8zM334.7 202.6h1.8v1.8h-1.8zM355.4 205.3h1.8v1.8h-1.8zM332.4 206.8h1.8v1.8h-1.8zM342.6 209.8h1.8v1.8h-1.8zM369.6 210.1h1.8v1.8h-1.8zM380.9 198.4h1.8v1.8h-1.8zM392.9 186.8h1.8v1.8h-1.8zM392.4 189.1h1.8v1.8h-1.8zM393.6 191.3h1.8v1.8h-1.8zM391.4 193.6h1.8v1.8h-1.8zM405.2 177.8h1.8v1.8h-1.8zM404.1 181.6h1.8v1.8h-1.8zM445.1 162.1h1.8v1.8h-1.8zM436.9 165.1h1.8v1.8h-1.8zM441.4 169.6h1.8v1.8h-1.8zM448.1 171.8h1.8v1.8h-1.8zM457.1 176.3h1.8v1.8h-1.8zM459.4 183.8h1.8v1.8h-1.8zM439.1 186.1h1.8v1.8h-1.8zM439.1 189.1h1.8v1.8h-1.8zM440.1 190.6h1.8v1.8h-1.8zM452.6 195.8h1.8v1.8h-1.8zM451.9 199.6h1.8v1.8h-1.8zM462.4 197.3h1.8v1.8h-1.8zM427.1 207.1h1.8v1.8h-1.8zM422.1 204.1h1.8v1.8h-1.8zM405.4 178.6h1.8v1.8h-1.8zM404.6 181.6h1.8v1.8h-1.8zM393.4 186.8h1.8v1.8h-1.8zM382.9 183.1h1.8v1.8h-1.8zM469.6 161.6h1.8v1.8h-1.8zM475.4 167.9h1.8v1.8h-1.8zM476.6 171.0h1.8v1.8h-1.8zM484.2 178.4h1.8v1.8h-1.8zM478.9 181.2h1.8v1.8h-1.8zM489.5 157.4h1.8v1.8h-1.8zM471.4 197.1h1.8v1.8h-1.8zM482.4 199.0h1.8v1.8h-1.8zM525.0 199.0h1.8v1.8h-1.8zM544.9 150.9h1.8v1.8h-1.8zM554.2 165.6h1.8v1.8h-1.8zM562.4 170.3h1.8v1.8h-1.8zM374.5 245.8h1.8v1.8h-1.8zM470.2 274.9h1.8v1.8h-1.8zM491.2 277.3h1.8v1.8h-1.8zM475.5 286.6h1.8v1.8h-1.8zM476.0 291.3h1.8v1.8h-1.8zM481.9 307.6h1.8v1.8h-1.8zM467.9 329.8h1.8v1.8h-1.8zM481.9 337.9h1.8v1.8h-1.8zM525.0 351.9h1.8v1.8h-1.8zM554.8 309.9h1.8v1.8h-1.8zM560.6 318.1h1.8v1.8h-1.8zM545.5 284.3h1.8v1.8h-1.8zM515.7 281.2h1.8v1.8h-1.8zM336.4 280.6h1.8v1.8h-1.8zM356.8 288.3h1.8v1.8h-1.8zM338.8 293.4h1.8v1.8h-1.8zM368.8 294.6h1.8v1.8h-1.8zM382.9 279.3h1.8v1.8h-1.8zM344.0 304.8h1.8v1.8h-1.8zM354.1 303.6h1.8v1.8h-1.8zM369.1 301.1h1.8v1.8h-1.8zM386.6 303.6h1.8v1.8h-1.8zM412.9 349.5h1.8v1.8h-1.8zM435.8 357.1h1.8v1.8h-1.8zM392.4 359.7h1.8v1.8h-1.8zM365.7 375.0h1.8v1.8h-1.8zM414.1 376.3h1.8v1.8h-1.8zM448.5 329.1h1.8v1.8h-1.8zM463.9 330.4h1.8v1.8h-1.8zM439.6 266.6h1.8v1.8h-1.8zM451.0 262.8h1.8v1.8h-1.8zM443.4 275.5h1.8v1.8h-1.8zM470.2 274.2h1.8v1.8h-1.8zM333.3 202.0h1.8v1.8h-1.8zM349.8 204.9h1.8v1.8h-1.8zM354.3 204.9h1.8v1.8h-1.8zM332.7 206.7h1.8v1.8h-1.8zM335.9 209.6h1.8v1.8h-1.8zM344.0 209.6h1.8v1.8h-1.8zM367.8 210.2h1.8v1.8h-1.8zM370.0 211.9h1.8v1.8h-1.8zM356.3 213.7h1.8v1.8h-1.8zM366.9 213.7h1.8v1.8h-1.8zM331.5 214.3h1.8v1.8h-1.8zM368.3 215.4h1.8v1.8h-1.8zM356.5 217.8h1.8v1.8h-1.8zM363.3 217.8h1.8v1.8h-1.8zM372.3 217.8h1.8v1.8h-1.8zM364.1 218.9h1.8v1.8h-1.8zM331.0 223.6h1.8v1.8h-1.8zM336.7 223.6h1.8v1.8h-1.8zM329.6 225.4h1.8v1.8h-1.8zM338.0 225.4h1.8v1.8h-1.8zM332.8 227.1h1.8v1.8h-1.8zM343.5 227.1h1.8v1.8h-1.8zM333.7 228.9h1.8v1.8h-1.8zM344.3 228.9h1.8v1.8h-1.8zM329.1 230.6h1.8v1.8h-1.8zM337.2 230.6h1.8v1.8h-1.8zM342.1 232.9h1.8v1.8h-1.8zM350.4 232.9h1.8v1.8h-1.8zM356.2 232.9h1.8v1.8h-1.8zM370.9 232.9h1.8v1.8h-1.8zM343.9 234.1h1.8v1.8h-1.8zM353.5 234.1h1.8v1.8h-1.8zM365.9 234.1h1.8v1.8h-1.8zM338.4 235.9h1.8v1.8h-1.8zM353.8 235.9h1.8v1.8h-1.8zM367.3 235.9h1.8v1.8h-1.8zM371.2 235.9h1.8v1.8h-1.8zM330.8 237.6h1.8v1.8h-1.8zM339.5 237.6h1.8v1.8h-1.8zM352.3 237.6h1.8v1.8h-1.8zM334.1 239.4h1.8v1.8h-1.8zM344.3 239.4h1.8v1.8h-1.8zM352.6 239.4h1.8v1.8h-1.8zM337.9 241.1h1.8v1.8h-1.8zM349.4 241.1h1.8v1.8h-1.8zM332.9 243.4h1.8v1.8h-1.8zM346.5 243.4h1.8v1.8h-1.8zM354.8 243.4h1.8v1.8h-1.8zM339.4 245.8h1.8v1.8h-1.8zM343.8 245.8h1.8v1.8h-1.8zM335.3 248.1h1.8v1.8h-1.8zM353.8 250.4h1.8v1.8h-1.8zM379.9 245.8h1.8v1.8h-1.8zM391.3 234.1h1.8v1.8h-1.8zM379.2 183.2h1.8v1.8h-1.8zM362.0 189.3h1.8v1.8h-1.8zM339.3 192.8h1.8v1.8h-1.8zM337.8 195.3h1.8v1.8h-1.8zM350.8 195.7h1.8v1.8h-1.8zM362.6 195.1h1.8v1.8h-1.8zM373.5 195.1h1.8v1.8h-1.8zM381.6 195.3h1.8v1.8h-1.8zM389.3 195.3h1.8v1.8h-1.8zM369.3 199.8h1.8v1.8h-1.8zM376.2 199.8h1.8v1.8h-1.8zM388.4 198.6h1.8v1.8h-1.8zM333.8 202.1h1.8v1.8h-1.8zM352.3 205.4h1.8v1.8h-1.8zM361.6 205.4h1.8v1.8h-1.8zM332.1 206.2h1.8v1.8h-1.8zM335.8 209.1h1.8v1.8h-1.8zM341.9 209.1h1.8v1.8h-1.8zM370.3 209.7h1.8v1.8h-1.8zM392.3 189.3h1.8v1.8h-1.8zM391.9 191.6h1.8v1.8h-1.8zM390.5 186.9h1.8v1.8h-1.8zM428.1 203.8h1.8v1.8h-1.8zM421.8 207.1h1.8v1.8h-1.8zM434.8 207.1h1.8v1.8h-1.8zM401.9 211.1h1.8v1.8h-1.8zM411.4 211.1h1.8v1.8h-1.8zM443.5 214.4h1.8v1.8h-1.8zM410.6 218.8h1.8v1.8h-1.8zM421.6 218.8h1.8v1.8h-1.8zM415.0 220.4h1.8v1.8h-1.8zM421.3 220.4h1.8v1.8h-1.8zM433.8 222.4h1.8v1.8h-1.8zM407.0 223.1h1.8v1.8h-1.8zM396.5 234.4h1.8v1.8h-1.8zM394.0 237.8h1.8v1.8h-1.8zM396.8 237.8h1.8v1.8h-1.8zM398.2 237.8h1.8v1.8h-1.8zM402.1 237.8h1.8v1.8h-1.8zM416.5 237.8h1.8v1.8h-1.8zM393.1 241.1h1.8v1.8h-1.8zM399.1 241.1h1.8v1.8h-1.8zM410.2 241.1h1.8v1.8h-1.8zM442.6 199.1h1.8v1.8h-1.8zM449.9 199.1h1.8v1.8h-1.8zM351.5 289.7h1.8v1.8h-1.8zM362.1 289.7h1.8v1.8h-1.8zM334.1 293.8h1.8v1.8h-1.8zM369.8 294.4h1.8v1.8h-1.8zM330.0 298.4h1.8v1.8h-1.8zM364.3 300.8h1.8v1.8h-1.8zM380.2 300.2h1.8v1.8h-1.8zM391.2 300.2h1.8v1.8h-1.8zM330.3 301.4h1.8v1.8h-1.8zM350.6 304.3h1.8v1.8h-1.8zM383.1 304.9h1.8v1.8h-1.8zM392.1 304.9h1.8v1.8h-1.8zM342.1 307.2h1.8v1.8h-1.8zM360.1 307.8h1.8v1.8h-1.8zM329.1 310.1h1.8v1.8h-1.8zM373.1 317.1h1.8v1.8h-1.8zM332.5 319.7h1.8v1.8h-1.8zM371.5 319.7h1.8v1.8h-1.8zM370.3 321.8h1.8v1.8h-1.8zM353.8 323.5h1.8v1.8h-1.8zM358.0 323.5h1.8v1.8h-1.8zM370.1 323.5h1.8v1.8h-1.8zM333.3 325.3h1.8v1.8h-1.8zM356.7 326.4h1.8v1.8h-1.8zM367.3 326.4h1.8v1.8h-1.8zM376.1 326.4h1.8v1.8h-1.8zM372.7 327.6h1.8v1.8h-1.8zM386.7 327.6h1.8v1.8h-1.8zM390.5 327.6h1.8v1.8h-1.8zM331.3 328.8h1.8v1.8h-1.8zM329.7 330.5h1.8v1.8h-1.8zM337.0 330.5h1.8v1.8h-1.8zM360.2 332.3h1.8v1.8h-1.8zM375.4 332.3h1.8v1.8h-1.8zM380.1 332.3h1.8v1.8h-1.8zM334.3 333.4h1.8v1.8h-1.8zM342.2 333.4h1.8v1.8h-1.8zM330.4 336.4h1.8v1.8h-1.8zM338.1 336.4h1.8v1.8h-1.8zM365.8 336.9h1.8v1.8h-1.8zM372.0 336.9h1.8v1.8h-1.8zM389.0 333.4h1.8v1.8h-1.8zM335.5 336.4h1.8v1.8h-1.8zM340.7 336.4h1.8v1.8h-1.8zM336.1 340.5h1.8v1.8h-1.8zM343.4 340.5h1.8v1.8h-1.8zM333.9 342.9h1.8v1.8h-1.8zM348.3 342.9h1.8v1.8h-1.8zM354.3 342.9h1.8v1.8h-1.8zM347.7 345.8h1.8v1.8h-1.8zM354.2 345.8h1.8v1.8h-1.8zM332.1 346.9h1.8v1.8h-1.8zM331.5 349.3h1.8v1.8h-1.8zM339.4 349.3h1.8v1.8h-1.8zM357.0 349.3h1.8v1.8h-1.8zM370.4 349.3h1.8v1.8h-1.8zM381.4 349.3h1.8v1.8h-1.8zM359.6 350.6h1.8v1.8h-1.8zM375.7 350.6h1.8v1.8h-1.8zM380.5 350.6h1.8v1.8h-1.8zM330.6 352.8h1.8v1.8h-1.8zM344.3 352.8h1.8v1.8h-1.8zM359.1 352.8h1.8v1.8h-1.8zM336.6 354.5h1.8v1.8h-1.8zM356.6 354.5h1.8v1.8h-1.8zM367.6 354.5h1.8v1.8h-1.8zM371.9 354.5h1.8v1.8h-1.8zM338.1 356.3h1.8v1.8h-1.8zM350.0 356.3h1.8v1.8h-1.8zM353.7 356.3h1.8v1.8h-1.8zM365.0 356.3h1.8v1.8h-1.8zM338.5 358.6h1.8v1.8h-1.8zM344.1 358.6h1.8v1.8h-1.8zM365.1 360.4h1.8v1.8h-1.8zM375.3 360.4h1.8v1.8h-1.8zM329.6 362.1h1.8v1.8h-1.8zM336.8 362.1h1.8v1.8h-1.8zM352.4 362.1h1.8v1.8h-1.8zM361.3 362.1h1.8v1.8h-1.8zM336.0 363.9h1.8v1.8h-1.8zM344.8 363.9h1.8v1.8h-1.8zM352.9 363.9h1.8v1.8h-1.8zM391.7 359.8h1.8v1.8h-1.8zM392.5 363.9h1.8v1.8h-1.8zM349.6 374.4h1.8v1.8h-1.8zM381.1 377.3h1.8v1.8h-1.8zM389.8 377.3h1.8v1.8h-1.8zM422.3 321.1h1.8v1.8h-1.8zM452.5 322.8h1.8v1.8h-1.8zM445.4 329.1h1.8v1.8h-1.8zM455.8 329.1h1.8v1.8h-1.8zM426.1 329.8h1.8v1.8h-1.8zM464.9 329.8h1.8v1.8h-1.8zM401.1 330.4h1.8v1.8h-1.8zM412.5 332.4h1.8v1.8h-1.8zM393.7 332.4h1.8v1.8h-1.8zM432.8 334.4h1.8v1.8h-1.8zM391.7 339.8h1.8v1.8h-1.8zM415.8 347.1h1.8v1.8h-1.8zM423.9 347.1h1.8v1.8h-1.8zM420.0 349.1h1.8v1.8h-1.8zM411.9 350.4h1.8v1.8h-1.8zM439.7 349.5h1.8v1.8h-1.8zM451.0 349.5h1.8v1.8h-1.8zM436.4 357.8h1.8v1.8h-1.8zM394.3 360.4h1.8v1.8h-1.8zM393.7 363.8h1.8v1.8h-1.8zM395.4 376.4h1.8v1.8h-1.8zM398.1 376.4h1.8v1.8h-1.8zM403.2 376.4h1.8v1.8h-1.8zM408.2 376.4h1.8v1.8h-1.8zM431.1 376.4h1.8v1.8h-1.8zM435.8 267.8h1.8v1.8h-1.8zM445.9 266.3h1.8v1.8h-1.8zM450.5 270.1h1.8v1.8h-1.8zM442.3 276.8h1.8v1.8h-1.8zM444.9 282.1h1.8v1.8h-1.8zM408.2 279.1h1.8v1.8h-1.8zM405.0 284.3h1.8v1.8h-1.8zM392.6 288.8h1.8v1.8h-1.8zM394.7 291.8h1.8v1.8h-1.8zM394.7 294.8h1.8v1.8h-1.8zM391.6 297.8h1.8v1.8h-1.8zM384.1 300.6h1.8v1.8h-1.8zM390.8 300.6h1.8v1.8h-1.8zM383.2 302.6h1.8v1.8h-1.8zM391.9 302.6h1.8v1.8h-1.8zM384.0 304.6h1.8v1.8h-1.8zM383.8 278.3h1.8v1.8h-1.8zM438.8 291.1h1.8v1.8h-1.8zM453.9 294.1h1.8v1.8h-1.8zM436.8 303.8h1.8v1.8h-1.8zM436.7 309.1h1.8v1.8h-1.8zM459.4 306.1h1.8v1.8h-1.8zM422.0 312.1h1.8v1.8h-1.8zM428.4 316.6h1.8v1.8h-1.8zM384.6 309.1h1.8v1.8h-1.8zM386.3 312.6h1.8v1.8h-1.8zM382.2 316.1h1.8v1.8h-1.8z" fill="#111"/>
<path d="M399.3 186.3 L411.5 186.3 L411.5 177.5 L428 177.5 L428 173.4 L435 173.4 L435 178.7 L439.5 178.7 L439.5 186.8 L431.3 186.8 L431.3 193.8 L419.7 193.8 L419.7 202 L415 202 L415 211.3 L398.7 211.3Z" fill="#18ee18"/>
<path d="M410.9 282.3 L434.8 282.3 L434.8 291.6 L440.1 291.6 L440.1 298.6 L432 298.6 L432 308.5 L424.3 308.5 L424.3 312 L406 312 L406 316 L399.3 316 L399.3 291.6 L410.9 291.6Z" fill="#18ee18"/>
<path d="M483.2 149.5H495.2M483.2 147.0V152.0M495.2 147.0V152.0M508.1 153.7H520.1M508.1 151.2V156.2M520.1 151.2V156.2M525.0 151.0H537.0M525.0 148.5V153.5M537.0 148.5V153.5M537.5 176.0H549.5M537.5 173.5V178.5M549.5 173.5V178.5M569.3 153.2H579.3M569.3 150.7V155.7M579.3 150.7V155.7M483.2 261.8H495.2M483.2 259.3V264.3M495.2 259.3V264.3M508.1 276.5H520.1M508.1 274.0V279.0M520.1 274.0V279.0M525.5 273.0H537.5M525.5 270.5V275.5M537.5 270.5V275.5M537.5 322.0H549.5M537.5 319.5V324.5M549.5 319.5V324.5M569.3 296.8H579.3M569.3 294.3V299.3M579.3 294.3V299.3" stroke="#0a0af0" stroke-width="1" fill="none"/>
<rect x="142" y="457.5" width="7" height="3" fill="#0a0af0"/>
<rect x="105.9" y="88.1" width="7.2" height="7.2" fill="#18ee18"/>
<rect x="118.6" y="90.1" width="7.2" height="7.2" fill="#18ee18"/>
<rect x="123.1" y="81.4" width="7.2" height="7.2" fill="#18ee18"/>
<rect x="134.4" y="106.6" width="7.2" height="7.2" fill="#18ee18"/>
<rect x="141.5" y="87.7" width="7.2" height="7.2" fill="#18ee18"/>
<rect x="159.8" y="62.3" width="7.2" height="7.2" fill="#18ee18"/>
<rect x="184.4" y="88.4" width="7.2" height="7.2" fill="#18ee18"/>
<rect x="182.4" y="94.9" width="7.2" height="7.2" fill="#18ee18"/>
<rect x="186.4" y="93.4" width="7.2" height="7.2" fill="#18ee18"/>
<rect x="181.1" y="87.7" width="7.2" height="7.2" fill="#18ee18"/>
<rect x="284.7" y="98.1" width="7.2" height="7.2" fill="#18ee18"/>
<rect x="78.2" y="172.9" width="7.2" height="7.2" fill="#18ee18"/>
<rect x="78.2" y="179.4" width="7.2" height="7.2" fill="#18ee18"/>
<rect x="105.5" y="194.4" width="7.2" height="7.2" fill="#18ee18"/>
<rect x="113.9" y="178.1" width="7.2" height="7.2" fill="#18ee18"/>
<rect x="118.6" y="202.1" width="7.2" height="7.2" fill="#18ee18"/>
<rect x="124.9" y="188.6" width="7.2" height="7.2" fill="#18ee18"/>
<rect x="130.3" y="175.7" width="7.2" height="7.2" fill="#18ee18"/>
<rect x="128.4" y="180.4" width="7.2" height="7.2" fill="#18ee18"/>
<rect x="141.2" y="201.4" width="7.2" height="7.2" fill="#18ee18"/>
<rect x="142.4" y="183.9" width="7.2" height="7.2" fill="#18ee18"/>
<rect x="144.7" y="176.9" width="7.2" height="7.2" fill="#18ee18"/>
<rect x="149.4" y="180.4" width="7.2" height="7.2" fill="#18ee18"/>
<rect x="159.2" y="167.1" width="7.2" height="7.2" fill="#18ee18"/>
<rect x="154.1" y="178.1" width="7.2" height="7.2" fill="#18ee18"/>
<rect x="161.1" y="176.9" width="7.2" height="7.2" fill="#18ee18"/>
<rect x="169.2" y="185.5" width="7.2" height="7.2" fill="#18ee18"/>
<rect x="168.1" y="178.1" width="7.2" height="7.2" fill="#18ee18"/>
<rect x="175.1" y="178.1" width="7.2" height="7.2" fill="#18ee18"/>
<rect x="182.1" y="185.1" width="7.2" height="7.2" fill="#18ee18"/>
<rect x="184.4" y="204.9" width="7.2" height="7.2" fill="#18ee18"/>
<rect x="134.2" y="224.7" width="7.2" height="7.2" fill="#18ee18"/>
<rect x="178.9" y="178.1" width="7.2" height="7.2" fill="#18ee18"/>
<rect x="186.4" y="178.1" width="7.2" height="7.2" fill="#18ee18"/>
<rect x="182.6" y="186.9" width="7.2" height="7.2" fill="#18ee18"/>
<rect x="191.4" y="184.4" width="7.2" height="7.2" fill="#18ee18"/>
<rect x="198.9" y="186.9" width="7.2" height="7.2" fill="#18ee18"/>
<rect x="208.9" y="181.9" width="7.2" height="7.2" fill="#18ee18"/>
<rect x="216.4" y="186.9" width="7.2" height="7.2" fill="#18ee18"/>
<rect x="213.9" y="190.6" width="7.2" height="7.2" fill="#18ee18"/>
<rect x="187.4" y="190.6" width="7.2" height="7.2" fill="#18ee18"/>
<rect x="233.4" y="181.4" width="7.2" height="7.2" fill="#18ee18"/>
<rect x="235.1" y="189.9" width="7.2" height="7.2" fill="#18ee18"/>
<rect x="236.4" y="203.9" width="7.2" height="7.2" fill="#18ee18"/>
<rect x="262.6" y="181.4" width="7.2" height="7.2" fill="#18ee18"/>
<rect x="284.4" y="218.1" width="7.2" height="7.2" fill="#18ee18"/>
<rect x="143.6" y="180.4" width="7.2" height="7.2" fill="#18ee18"/>
<rect x="149.4" y="176.9" width="7.2" height="7.2" fill="#18ee18"/>
<rect x="154.1" y="179.2" width="7.2" height="7.2" fill="#18ee18"/>
<rect x="161.1" y="176.9" width="7.2" height="7.2" fill="#18ee18"/>
<rect x="168.1" y="180.4" width="7.2" height="7.2" fill="#18ee18"/>
<rect x="169.2" y="186.2" width="7.2" height="7.2" fill="#18ee18"/>
<rect x="175.1" y="178.1" width="7.2" height="7.2" fill="#18ee18"/>
<rect x="180.9" y="179.2" width="7.2" height="7.2" fill="#18ee18"/>
<rect x="182.1" y="186.2" width="7.2" height="7.2" fill="#18ee18"/>
<rect x="189.1" y="180.4" width="7.2" height="7.2" fill="#18ee18"/>
<rect x="186.7" y="192.1" width="7.2" height="7.2" fill="#18ee18"/>
<rect x="189.4" y="178.4" width="7.2" height="7.2" fill="#18ee18"/>
<rect x="189.4" y="185.4" width="7.2" height="7.2" fill="#18ee18"/>
<rect x="200.4" y="180.4" width="7.2" height="7.2" fill="#18ee18"/>
<rect x="200.4" y="187.4" width="7.2" height="7.2" fill="#18ee18"/>
<rect x="201.4" y="190.4" width="7.2" height="7.2" fill="#18ee18"/>
<rect x="209.4" y="184.4" width="7.2" height="7.2" fill="#18ee18"/>
<rect x="214.4" y="189.4" width="7.2" height="7.2" fill="#18ee18"/>
<rect x="210.4" y="191.4" width="7.2" height="7.2" fill="#18ee18"/>
<rect x="216.4" y="183.4" width="7.2" height="7.2" fill="#18ee18"/>
<rect x="195.4" y="182.4" width="7.2" height="7.2" fill="#18ee18"/>
<rect x="205.4" y="192.4" width="7.2" height="7.2" fill="#18ee18"/>
<rect x="78.6" y="282.3" width="7.2" height="7.2" fill="#18ee18"/>
<rect x="114.1" y="285.8" width="7.2" height="7.2" fill="#18ee18"/>
<rect x="129.2" y="282.7" width="7.2" height="7.2" fill="#18ee18"/>
<rect x="129.2" y="288.6" width="7.2" height="7.2" fill="#18ee18"/>
<rect x="105.9" y="307.2" width="7.2" height="7.2" fill="#18ee18"/>
<rect x="124.6" y="302.1" width="7.2" height="7.2" fill="#18ee18"/>
<rect x="118.7" y="317.3" width="7.2" height="7.2" fill="#18ee18"/>
<rect x="142.1" y="295.6" width="7.2" height="7.2" fill="#18ee18"/>
<rect x="141.6" y="318.9" width="7.2" height="7.2" fill="#18ee18"/>
<rect x="134.6" y="339.9" width="7.2" height="7.2" fill="#18ee18"/>
<rect x="144.4" y="286.9" width="7.2" height="7.2" fill="#18ee18"/>
<rect x="151.4" y="287.4" width="7.2" height="7.2" fill="#18ee18"/>
<rect x="159.6" y="282.7" width="7.2" height="7.2" fill="#18ee18"/>
<rect x="159.6" y="288.6" width="7.2" height="7.2" fill="#18ee18"/>
<rect x="167.7" y="287.4" width="7.2" height="7.2" fill="#18ee18"/>
<rect x="168.9" y="301.4" width="7.2" height="7.2" fill="#18ee18"/>
<rect x="177.1" y="287.4" width="7.2" height="7.2" fill="#18ee18"/>
<rect x="181.7" y="289.7" width="7.2" height="7.2" fill="#18ee18"/>
<rect x="182.9" y="304.9" width="7.2" height="7.2" fill="#18ee18"/>
<rect x="184.5" y="318.2" width="7.2" height="7.2" fill="#18ee18"/>
<rect x="191.1" y="293.2" width="7.2" height="7.2" fill="#18ee18"/>
<rect x="186.4" y="289.7" width="7.2" height="7.2" fill="#18ee18"/>
<rect x="188.7" y="289.7" width="7.2" height="7.2" fill="#18ee18"/>
<rect x="216.7" y="299.1" width="7.2" height="7.2" fill="#18ee18"/>
<rect x="214.4" y="302.6" width="7.2" height="7.2" fill="#18ee18"/>
<rect x="234.2" y="290.9" width="7.2" height="7.2" fill="#18ee18"/>
<rect x="235.4" y="299.1" width="7.2" height="7.2" fill="#18ee18"/>
<rect x="262.9" y="289.7" width="7.2" height="7.2" fill="#18ee18"/>
<rect x="235.9" y="322.4" width="7.2" height="7.2" fill="#18ee18"/>
<rect x="284.4" y="336.9" width="7.2" height="7.2" fill="#18ee18"/>
<rect x="146.7" y="287.4" width="7.2" height="7.2" fill="#18ee18"/>
<rect x="153.7" y="289.7" width="7.2" height="7.2" fill="#18ee18"/>
<rect x="163.1" y="287.4" width="7.2" height="7.2" fill="#18ee18"/>
<rect x="172.4" y="289.7" width="7.2" height="7.2" fill="#18ee18"/>
<rect x="180.6" y="288.6" width="7.2" height="7.2" fill="#18ee18"/>
<rect x="188.7" y="290.9" width="7.2" height="7.2" fill="#18ee18"/>
<rect x="142.4" y="285.4" width="7.2" height="7.2" fill="#18ee18"/>
<rect x="142.4" y="292.4" width="7.2" height="7.2" fill="#18ee18"/>
<rect x="149.4" y="290.4" width="7.2" height="7.2" fill="#18ee18"/>
<rect x="156.4" y="292.4" width="7.2" height="7.2" fill="#18ee18"/>
<rect x="164.4" y="293.4" width="7.2" height="7.2" fill="#18ee18"/>
<rect x="172.4" y="293.9" width="7.2" height="7.2" fill="#18ee18"/>
<rect x="180.4" y="294.4" width="7.2" height="7.2" fill="#18ee18"/>
<rect x="188.4" y="295.4" width="7.2" height="7.2" fill="#18ee18"/>
<rect x="196.4" y="290.4" width="7.2" height="7.2" fill="#18ee18"/>
<rect x="201.4" y="296.4" width="7.2" height="7.2" fill="#18ee18"/>
<rect x="206.4" y="302.4" width="7.2" height="7.2" fill="#18ee18"/>
<rect x="212.4" y="299.4" width="7.2" height="7.2" fill="#18ee18"/>
<rect x="199.4" y="303.4" width="7.2" height="7.2" fill="#18ee18"/>
<rect x="218.4" y="297.4" width="7.2" height="7.2" fill="#18ee18"/>
<rect x="78.6" y="411.4" width="7.2" height="7.2" fill="#18ee18"/>
<rect x="77.9" y="423.1" width="7.2" height="7.2" fill="#18ee18"/>
<rect x="114.5" y="413.8" width="7.2" height="7.2" fill="#18ee18"/>
<rect x="105.9" y="428.7" width="7.2" height="7.2" fill="#18ee18"/>
<rect x="124.6" y="428.7" width="7.2" height="7.2" fill="#18ee18"/>
<rect x="130.4" y="409.6" width="7.2" height="7.2" fill="#18ee18"/>
<rect x="129.2" y="415.9" width="7.2" height="7.2" fill="#18ee18"/>
<rect x="142.1" y="413.1" width="7.2" height="7.2" fill="#18ee18"/>
<rect x="146.7" y="410.7" width="7.2" height="7.2" fill="#18ee18"/>
<rect x="147.9" y="415.4" width="7.2" height="7.2" fill="#18ee18"/>
<rect x="157.2" y="410.7" width="7.2" height="7.2" fill="#18ee18"/>
<rect x="158.4" y="415.4" width="7.2" height="7.2" fill="#18ee18"/>
<rect x="165.4" y="413.1" width="7.2" height="7.2" fill="#18ee18"/>
<rect x="166.6" y="417.7" width="7.2" height="7.2" fill="#18ee18"/>
<rect x="174.7" y="413.1" width="7.2" height="7.2" fill="#18ee18"/>
<rect x="181.7" y="422.4" width="7.2" height="7.2" fill="#18ee18"/>
<rect x="184.1" y="415.4" width="7.2" height="7.2" fill="#18ee18"/>
<rect x="191.1" y="413.1" width="7.2" height="7.2" fill="#18ee18"/>
<rect x="146.3" y="439.9" width="7.2" height="7.2" fill="#18ee18"/>
<rect x="168.9" y="439.2" width="7.2" height="7.2" fill="#18ee18"/>
<rect x="141.6" y="450.4" width="7.2" height="7.2" fill="#18ee18"/>
<rect x="118.7" y="454.4" width="7.2" height="7.2" fill="#18ee18"/>
<rect x="134.6" y="460.9" width="7.2" height="7.2" fill="#18ee18"/>
<rect x="193.4" y="409.6" width="7.2" height="7.2" fill="#18ee18"/>
<rect x="188.7" y="410.7" width="7.2" height="7.2" fill="#18ee18"/>
<rect x="188.7" y="417.7" width="7.2" height="7.2" fill="#18ee18"/>
<rect x="201.6" y="418.9" width="7.2" height="7.2" fill="#18ee18"/>
<rect x="202.7" y="420.5" width="7.2" height="7.2" fill="#18ee18"/>
<rect x="212.1" y="414.2" width="7.2" height="7.2" fill="#18ee18"/>
<rect x="217.9" y="423.6" width="7.2" height="7.2" fill="#18ee18"/>
<rect x="233.1" y="416.6" width="7.2" height="7.2" fill="#18ee18"/>
<rect x="234.9" y="424.7" width="7.2" height="7.2" fill="#18ee18"/>
<rect x="236.6" y="430.6" width="7.2" height="7.2" fill="#18ee18"/>
<rect x="214.9" y="437.6" width="7.2" height="7.2" fill="#18ee18"/>
<rect x="262.9" y="412.6" width="7.2" height="7.2" fill="#18ee18"/>
<rect x="284.4" y="446.9" width="7.2" height="7.2" fill="#18ee18"/>
<rect x="143.4" y="409.9" width="7.2" height="7.2" fill="#18ee18"/>
<rect x="151.4" y="412.4" width="7.2" height="7.2" fill="#18ee18"/>
<rect x="154.4" y="416.9" width="7.2" height="7.2" fill="#18ee18"/>
<rect x="161.4" y="410.9" width="7.2" height="7.2" fill="#18ee18"/>
<rect x="170.4" y="410.4" width="7.2" height="7.2" fill="#18ee18"/>
<rect x="172.4" y="416.9" width="7.2" height="7.2" fill="#18ee18"/>
<rect x="177.4" y="415.4" width="7.2" height="7.2" fill="#18ee18"/>
<rect x="186.9" y="410.4" width="7.2" height="7.2" fill="#18ee18"/>
<rect x="182.4" y="409.9" width="7.2" height="7.2" fill="#18ee18"/>
<rect x="191.4" y="415.9" width="7.2" height="7.2" fill="#18ee18"/>
<rect x="427.4" y="173.6" width="7.2" height="7.2" fill="#18ee18"/>
<rect x="432.6" y="177.4" width="7.2" height="7.2" fill="#18ee18"/>
<rect x="425.9" y="180.4" width="7.2" height="7.2" fill="#18ee18"/>
<rect x="410.9" y="177.4" width="7.2" height="7.2" fill="#18ee18"/>
<rect x="416.9" y="175.9" width="7.2" height="7.2" fill="#18ee18"/>
<rect x="421.4" y="174.4" width="7.2" height="7.2" fill="#18ee18"/>
<rect x="409.4" y="184.9" width="7.2" height="7.2" fill="#18ee18"/>
<rect x="416.9" y="184.9" width="7.2" height="7.2" fill="#18ee18"/>
<rect x="424.4" y="186.4" width="7.2" height="7.2" fill="#18ee18"/>
<rect x="413.9" y="190.9" width="7.2" height="7.2" fill="#18ee18"/>
<rect x="421.4" y="189.4" width="7.2" height="7.2" fill="#18ee18"/>
<rect x="400.4" y="186.4" width="7.2" height="7.2" fill="#18ee18"/>
<rect x="400.4" y="193.9" width="7.2" height="7.2" fill="#18ee18"/>
<rect x="398.9" y="202.9" width="7.2" height="7.2" fill="#18ee18"/>
<rect x="406.4" y="202.9" width="7.2" height="7.2" fill="#18ee18"/>
<rect x="407.9" y="198.4" width="7.2" height="7.2" fill="#18ee18"/>
<rect x="388.4" y="205.1" width="7.2" height="7.2" fill="#18ee18"/>
<rect x="457.4" y="167.6" width="7.2" height="7.2" fill="#18ee18"/>
<rect x="381.3" y="218.2" width="7.2" height="7.2" fill="#18ee18"/>
<rect x="363.5" y="224.3" width="7.2" height="7.2" fill="#18ee18"/>
<rect x="404.4" y="181.4" width="7.2" height="7.2" fill="#18ee18"/>
<rect x="429.4" y="182.4" width="7.2" height="7.2" fill="#18ee18"/>
<rect x="412.7" y="283.0" width="7.2" height="7.2" fill="#18ee18"/>
<rect x="425.4" y="283.0" width="7.2" height="7.2" fill="#18ee18"/>
<rect x="430.5" y="290.7" width="7.2" height="7.2" fill="#18ee18"/>
<rect x="399.9" y="291.9" width="7.2" height="7.2" fill="#18ee18"/>
<rect x="410.1" y="293.2" width="7.2" height="7.2" fill="#18ee18"/>
<rect x="420.4" y="295.8" width="7.2" height="7.2" fill="#18ee18"/>
<rect x="399.9" y="303.4" width="7.2" height="7.2" fill="#18ee18"/>
<rect x="412.7" y="303.4" width="7.2" height="7.2" fill="#18ee18"/>
<rect x="424.2" y="300.9" width="7.2" height="7.2" fill="#18ee18"/>
<rect x="399.9" y="307.2" width="7.2" height="7.2" fill="#18ee18"/>
<rect x="407.6" y="302.1" width="7.2" height="7.2" fill="#18ee18"/>
<rect x="397.4" y="316.2" width="7.2" height="7.2" fill="#18ee18"/>
<rect x="406.3" y="320.0" width="7.2" height="7.2" fill="#18ee18"/>
<rect x="388.4" y="318.2" width="7.2" height="7.2" fill="#18ee18"/>
<rect x="381.6" y="336.6" width="7.2" height="7.2" fill="#18ee18"/>
<rect x="362.9" y="340.4" width="7.2" height="7.2" fill="#18ee18"/>
<rect x="457.4" y="283.0" width="7.2" height="7.2" fill="#18ee18"/>
<rect x="416.4" y="288.4" width="7.2" height="7.2" fill="#18ee18"/>
<rect x="404.4" y="297.4" width="7.2" height="7.2" fill="#18ee18"/>
<rect x="141.1" y="93.8" width="7.2" height="7.2" fill="#0a0af0"/>
<rect x="149.9" y="85.6" width="7.2" height="7.2" fill="#0a0af0"/>
<rect x="191.9" y="85.1" width="7.2" height="7.2" fill="#0a0af0"/>
<rect x="200.1" y="97.9" width="7.2" height="7.2" fill="#0a0af0"/>
<rect x="206.9" y="106.9" width="7.2" height="7.2" fill="#0a0af0"/>
<rect x="211.4" y="103.1" width="7.2" height="7.2" fill="#0a0af0"/>
<rect x="259.4" y="113.4" width="7.2" height="7.2" fill="#0a0af0"/>
<rect x="278.0" y="77.5" width="7.2" height="7.2" fill="#0a0af0"/>
<rect x="261.8" y="7.0" width="7.2" height="7.2" fill="#0a0af0"/>
<rect x="255.5" y="20.0" width="7.2" height="7.2" fill="#0a0af0"/>
<rect x="258.2" y="29.0" width="7.2" height="7.2" fill="#0a0af0"/>
<rect x="206.7" y="38.7" width="7.2" height="7.2" fill="#0a0af0"/>
<rect x="255.5" y="43.7" width="7.2" height="7.2" fill="#0a0af0"/>
<rect x="299.4" y="8.1" width="7.2" height="7.2" fill="#0a0af0"/>
<rect x="301.0" y="23.9" width="7.2" height="7.2" fill="#0a0af0"/>
<rect x="308.9" y="28.6" width="7.2" height="7.2" fill="#0a0af0"/>
<rect x="314.7" y="21.8" width="7.2" height="7.2" fill="#0a0af0"/>
<rect x="320.8" y="26.8" width="7.2" height="7.2" fill="#0a0af0"/>
<rect x="312.9" y="36.9" width="7.2" height="7.2" fill="#0a0af0"/>
<rect x="298.5" y="48.6" width="7.2" height="7.2" fill="#0a0af0"/>
<rect x="146.6" y="169.9" width="7.2" height="7.2" fill="#0a0af0"/>
<rect x="148.9" y="194.4" width="7.2" height="7.2" fill="#0a0af0"/>
<rect x="256.4" y="136.9" width="7.2" height="7.2" fill="#0a0af0"/>
<rect x="261.9" y="134.9" width="7.2" height="7.2" fill="#0a0af0"/>
<rect x="256.9" y="139.9" width="7.2" height="7.2" fill="#0a0af0"/>
<rect x="255.9" y="158.9" width="7.2" height="7.2" fill="#0a0af0"/>
<rect x="206.9" y="163.9" width="7.2" height="7.2" fill="#0a0af0"/>
<rect x="298.4" y="145.6" width="7.2" height="7.2" fill="#0a0af0"/>
<rect x="298.9" y="149.4" width="7.2" height="7.2" fill="#0a0af0"/>
<rect x="308.9" y="148.1" width="7.2" height="7.2" fill="#0a0af0"/>
<rect x="312.6" y="149.4" width="7.2" height="7.2" fill="#0a0af0"/>
<rect x="320.9" y="141.9" width="7.2" height="7.2" fill="#0a0af0"/>
<rect x="314.4" y="169.9" width="7.2" height="7.2" fill="#0a0af0"/>
<rect x="300.6" y="175.6" width="7.2" height="7.2" fill="#0a0af0"/>
<rect x="211.4" y="221.9" width="7.2" height="7.2" fill="#0a0af0"/>
<rect x="200.9" y="231.4" width="7.2" height="7.2" fill="#0a0af0"/>
<rect x="206.9" y="242.4" width="7.2" height="7.2" fill="#0a0af0"/>
<rect x="194.4" y="248.1" width="7.2" height="7.2" fill="#0a0af0"/>
<rect x="258.9" y="224.9" width="7.2" height="7.2" fill="#0a0af0"/>
<rect x="275.1" y="182.4" width="7.2" height="7.2" fill="#0a0af0"/>
<rect x="146.7" y="274.6" width="7.2" height="7.2" fill="#0a0af0"/>
<rect x="140.9" y="311.9" width="7.2" height="7.2" fill="#0a0af0"/>
<rect x="149.1" y="309.6" width="7.2" height="7.2" fill="#0a0af0"/>
<rect x="192.7" y="353.2" width="7.2" height="7.2" fill="#0a0af0"/>
<rect x="298.4" y="257.5" width="7.2" height="7.2" fill="#0a0af0"/>
<rect x="257.6" y="262.9" width="7.2" height="7.2" fill="#0a0af0"/>
<rect x="255.2" y="266.4" width="7.2" height="7.2" fill="#0a0af0"/>
<rect x="261.5" y="269.9" width="7.2" height="7.2" fill="#0a0af0"/>
<rect x="255.2" y="281.6" width="7.2" height="7.2" fill="#0a0af0"/>
<rect x="314.3" y="272.2" width="7.2" height="7.2" fill="#0a0af0"/>
<rect x="308.9" y="275.7" width="7.2" height="7.2" fill="#0a0af0"/>
<rect x="320.6" y="268.3" width="7.2" height="7.2" fill="#0a0af0"/>
<rect x="299.6" y="293.2" width="7.2" height="7.2" fill="#0a0af0"/>
<rect x="200.4" y="286.9" width="7.2" height="7.2" fill="#0a0af0"/>
<rect x="314.3" y="314.9" width="7.2" height="7.2" fill="#0a0af0"/>
<rect x="300.7" y="321.9" width="7.2" height="7.2" fill="#0a0af0"/>
<rect x="259.2" y="335.9" width="7.2" height="7.2" fill="#0a0af0"/>
<rect x="211.6" y="339.2" width="7.2" height="7.2" fill="#0a0af0"/>
<rect x="195.3" y="352.7" width="7.2" height="7.2" fill="#0a0af0"/>
<rect x="200.9" y="356.9" width="7.2" height="7.2" fill="#0a0af0"/>
<rect x="206.9" y="367.9" width="7.2" height="7.2" fill="#0a0af0"/>
<rect x="277.4" y="293.9" width="7.2" height="7.2" fill="#0a0af0"/>
<rect x="146.7" y="422.4" width="7.2" height="7.2" fill="#0a0af0"/>
<rect x="149.1" y="424.7" width="7.2" height="7.2" fill="#0a0af0"/>
<rect x="192.7" y="417.7" width="7.2" height="7.2" fill="#0a0af0"/>
<rect x="192.7" y="473.7" width="7.2" height="7.2" fill="#0a0af0"/>
<rect x="262.2" y="386.9" width="7.2" height="7.2" fill="#0a0af0"/>
<rect x="255.2" y="392.5" width="7.2" height="7.2" fill="#0a0af0"/>
<rect x="258.3" y="396.3" width="7.2" height="7.2" fill="#0a0af0"/>
<rect x="298.4" y="410.7" width="7.2" height="7.2" fill="#0a0af0"/>
<rect x="308.9" y="410.3" width="7.2" height="7.2" fill="#0a0af0"/>
<rect x="312.9" y="424.7" width="7.2" height="7.2" fill="#0a0af0"/>
<rect x="320.6" y="428.2" width="7.2" height="7.2" fill="#0a0af0"/>
<rect x="255.2" y="448.5" width="7.2" height="7.2" fill="#0a0af0"/>
<rect x="299.6" y="449.2" width="7.2" height="7.2" fill="#0a0af0"/>
<rect x="314.7" y="448.5" width="7.2" height="7.2" fill="#0a0af0"/>
<rect x="211.6" y="459.7" width="7.2" height="7.2" fill="#0a0af0"/>
<rect x="259.2" y="460.4" width="7.2" height="7.2" fill="#0a0af0"/>
<rect x="200.9" y="466.7" width="7.2" height="7.2" fill="#0a0af0"/>
<rect x="206.9" y="467.9" width="7.2" height="7.2" fill="#0a0af0"/>
<rect x="206.9" y="471.9" width="7.2" height="7.2" fill="#0a0af0"/>
<rect x="195.3" y="473.3" width="7.2" height="7.2" fill="#0a0af0"/>
<rect x="276.9" y="467.9" width="7.2" height="7.2" fill="#0a0af0"/>
<rect x="300.7" y="473.3" width="7.2" height="7.2" fill="#0a0af0"/>
<rect x="191.1" y="420.5" width="7.2" height="7.2" fill="#0a0af0"/>
<rect x="420.6" y="169.1" width="7.2" height="7.2" fill="#0a0af0"/>
<rect x="390.6" y="199.9" width="7.2" height="7.2" fill="#0a0af0"/>
<rect x="411.6" y="196.1" width="7.2" height="7.2" fill="#0a0af0"/>
<rect x="348.6" y="224.7" width="7.2" height="7.2" fill="#0a0af0"/>
<rect x="372.4" y="221.9" width="7.2" height="7.2" fill="#0a0af0"/>
<rect x="379.9" y="231.3" width="7.2" height="7.2" fill="#0a0af0"/>
<rect x="361.2" y="242.2" width="7.2" height="7.2" fill="#0a0af0"/>
<rect x="485.6" y="145.9" width="7.2" height="7.2" fill="#0a0af0"/>
<rect x="496.1" y="158.7" width="7.2" height="7.2" fill="#0a0af0"/>
<rect x="510.5" y="150.1" width="7.2" height="7.2" fill="#0a0af0"/>
<rect x="506.1" y="164.5" width="7.2" height="7.2" fill="#0a0af0"/>
<rect x="528.3" y="140.3" width="7.2" height="7.2" fill="#0a0af0"/>
<rect x="529.2" y="147.7" width="7.2" height="7.2" fill="#0a0af0"/>
<rect x="525.4" y="146.4" width="7.2" height="7.2" fill="#0a0af0"/>
<rect x="545.8" y="137.9" width="7.2" height="7.2" fill="#0a0af0"/>
<rect x="573.1" y="134.9" width="7.2" height="7.2" fill="#0a0af0"/>
<rect x="570.7" y="149.6" width="7.2" height="7.2" fill="#0a0af0"/>
<rect x="541.6" y="169.9" width="7.2" height="7.2" fill="#0a0af0"/>
<rect x="538.1" y="175.3" width="7.2" height="7.2" fill="#0a0af0"/>
<rect x="420.4" y="274.8" width="7.2" height="7.2" fill="#0a0af0"/>
<rect x="390.2" y="311.6" width="7.2" height="7.2" fill="#0a0af0"/>
<rect x="410.6" y="311.6" width="7.2" height="7.2" fill="#0a0af0"/>
<rect x="348.9" y="336.1" width="7.2" height="7.2" fill="#0a0af0"/>
<rect x="371.9" y="339.6" width="7.2" height="7.2" fill="#0a0af0"/>
<rect x="380.0" y="357.0" width="7.2" height="7.2" fill="#0a0af0"/>
<rect x="361.7" y="368.5" width="7.2" height="7.2" fill="#0a0af0"/>
<rect x="485.6" y="258.2" width="7.2" height="7.2" fill="#0a0af0"/>
<rect x="496.1" y="281.6" width="7.2" height="7.2" fill="#0a0af0"/>
<rect x="510.5" y="272.9" width="7.2" height="7.2" fill="#0a0af0"/>
<rect x="506.6" y="294.4" width="7.2" height="7.2" fill="#0a0af0"/>
<rect x="528.3" y="262.9" width="7.2" height="7.2" fill="#0a0af0"/>
<rect x="529.2" y="268.7" width="7.2" height="7.2" fill="#0a0af0"/>
<rect x="527.6" y="275.7" width="7.2" height="7.2" fill="#0a0af0"/>
<rect x="545.8" y="266.4" width="7.2" height="7.2" fill="#0a0af0"/>
<rect x="573.1" y="271.1" width="7.2" height="7.2" fill="#0a0af0"/>
<rect x="570.7" y="293.2" width="7.2" height="7.2" fill="#0a0af0"/>
<rect x="541.6" y="314.9" width="7.2" height="7.2" fill="#0a0af0"/>
<rect x="538.1" y="321.9" width="7.2" height="7.2" fill="#0a0af0"/>
<rect x="78.6" y="75.4" width="7.2" height="7.2" fill="#18ee18"/><path d="M82.2 74.1L86.7 82.4L77.7 82.4Z" fill="#18ee18" stroke="#7a3412" stroke-width="1.1"/>
<rect x="78.6" y="83.6" width="7.2" height="7.2" fill="#18ee18"/><path d="M82.2 82.3L86.7 90.6L77.7 90.6Z" fill="#18ee18" stroke="#7a3412" stroke-width="1.1"/>
<rect x="114.1" y="80.6" width="7.2" height="7.2" fill="#18ee18"/><path d="M117.7 79.3L122.2 87.6L113.2 87.6Z" fill="#18ee18" stroke="#7a3412" stroke-width="1.1"/>
<rect x="130.6" y="80.6" width="7.2" height="7.2" fill="#18ee18"/><path d="M134.2 79.3L138.7 87.6L129.7 87.6Z" fill="#18ee18" stroke="#7a3412" stroke-width="1.1"/>
<rect x="141.9" y="79.9" width="7.2" height="7.2" fill="#18ee18"/><path d="M145.5 78.6L150.0 86.9L141.0 86.9Z" fill="#18ee18" stroke="#7a3412" stroke-width="1.1"/>
<rect x="143.6" y="77.4" width="7.2" height="7.2" fill="#18ee18"/><path d="M147.2 76.1L151.7 84.4L142.7 84.4Z" fill="#18ee18" stroke="#7a3412" stroke-width="1.1"/>
<rect x="146.9" y="76.9" width="7.2" height="7.2" fill="#18ee18"/><path d="M150.5 75.6L155.0 83.9L146.0 83.9Z" fill="#18ee18" stroke="#7a3412" stroke-width="1.1"/>
<rect x="150.2" y="78.4" width="7.2" height="7.2" fill="#18ee18"/><path d="M153.8 77.1L158.3 85.4L149.3 85.4Z" fill="#18ee18" stroke="#7a3412" stroke-width="1.1"/>
<rect x="157.7" y="79.4" width="7.2" height="7.2" fill="#18ee18"/><path d="M161.3 78.1L165.8 86.4L156.8 86.4Z" fill="#18ee18" stroke="#7a3412" stroke-width="1.1"/>
<rect x="165.7" y="77.4" width="7.2" height="7.2" fill="#18ee18"/><path d="M169.3 76.1L173.8 84.4L164.8 84.4Z" fill="#18ee18" stroke="#7a3412" stroke-width="1.1"/>
<rect x="171.1" y="78.4" width="7.2" height="7.2" fill="#18ee18"/><path d="M174.7 77.1L179.2 85.4L170.2 85.4Z" fill="#18ee18" stroke="#7a3412" stroke-width="1.1"/>
<rect x="176.9" y="78.4" width="7.2" height="7.2" fill="#18ee18"/><path d="M180.5 77.1L185.0 85.4L176.0 85.4Z" fill="#18ee18" stroke="#7a3412" stroke-width="1.1"/>
<rect x="181.4" y="75.4" width="7.2" height="7.2" fill="#18ee18"/><path d="M185.0 74.1L189.5 82.4L180.5 82.4Z" fill="#18ee18" stroke="#7a3412" stroke-width="1.1"/>
<rect x="141.4" y="83.9" width="7.2" height="7.2" fill="#18ee18"/><path d="M145.0 82.6L149.5 90.9L140.5 90.9Z" fill="#18ee18" stroke="#7a3412" stroke-width="1.1"/>
<rect x="147.4" y="83.9" width="7.2" height="7.2" fill="#18ee18"/><path d="M151.0 82.6L155.5 90.9L146.5 90.9Z" fill="#18ee18" stroke="#7a3412" stroke-width="1.1"/>
<rect x="154.4" y="83.4" width="7.2" height="7.2" fill="#18ee18"/><path d="M158.0 82.1L162.5 90.4L153.5 90.4Z" fill="#18ee18" stroke="#7a3412" stroke-width="1.1"/>
<rect x="188.9" y="72.4" width="7.2" height="7.2" fill="#18ee18"/><path d="M192.5 71.1L197.0 79.4L188.0 79.4Z" fill="#18ee18" stroke="#7a3412" stroke-width="1.1"/>
<rect x="188.1" y="85.1" width="7.2" height="7.2" fill="#18ee18"/><path d="M191.7 83.8L196.2 92.1L187.2 92.1Z" fill="#18ee18" stroke="#7a3412" stroke-width="1.1"/>
<rect x="184.4" y="86.4" width="7.2" height="7.2" fill="#18ee18"/><path d="M188.0 85.1L192.5 93.4L183.5 93.4Z" fill="#18ee18" stroke="#7a3412" stroke-width="1.1"/>
<rect x="197.9" y="78.4" width="7.2" height="7.2" fill="#18ee18"/><path d="M201.5 77.1L206.0 85.4L197.0 85.4Z" fill="#18ee18" stroke="#7a3412" stroke-width="1.1"/>
<rect x="206.9" y="79.1" width="7.2" height="7.2" fill="#18ee18"/><path d="M210.5 77.8L215.0 86.1L206.0 86.1Z" fill="#18ee18" stroke="#7a3412" stroke-width="1.1"/>
<rect x="211.4" y="78.4" width="7.2" height="7.2" fill="#18ee18"/><path d="M215.0 77.1L219.5 85.4L210.5 85.4Z" fill="#18ee18" stroke="#7a3412" stroke-width="1.1"/>
<rect x="218.1" y="79.1" width="7.2" height="7.2" fill="#18ee18"/><path d="M221.7 77.8L226.2 86.1L217.2 86.1Z" fill="#18ee18" stroke="#7a3412" stroke-width="1.1"/>
<rect x="234.7" y="78.1" width="7.2" height="7.2" fill="#18ee18"/><path d="M238.3 76.8L242.8 85.1L233.8 85.1Z" fill="#18ee18" stroke="#7a3412" stroke-width="1.1"/>
<rect x="235.7" y="87.3" width="7.2" height="7.2" fill="#18ee18"/><path d="M239.3 86.0L243.8 94.3L234.8 94.3Z" fill="#18ee18" stroke="#7a3412" stroke-width="1.1"/>
<rect x="263.4" y="84.6" width="7.2" height="7.2" fill="#18ee18"/><path d="M267.0 83.3L271.5 91.6L262.5 91.6Z" fill="#18ee18" stroke="#7a3412" stroke-width="1.1"/>
<circle cx="110.2" cy="83.5" r="9.8" fill="none" stroke="#eea030" stroke-width="1.9"/><text x="110.2" y="88.9" font-size="16" font-weight="bold" text-anchor="middle" fill="#eea030">1</text>
<circle cx="207.5" cy="83.5" r="9.8" fill="none" stroke="#eea030" stroke-width="1.9"/><text x="207.5" y="88.9" font-size="16" font-weight="bold" text-anchor="middle" fill="#eea030">2</text>
<circle cx="252.3" cy="83.3" r="9.8" fill="none" stroke="#eea030" stroke-width="1.9"/><text x="252.3" y="88.7" font-size="16" font-weight="bold" text-anchor="middle" fill="#eea030">3</text>
<circle cx="288.1" cy="83.3" r="9.8" fill="none" stroke="#eea030" stroke-width="1.9"/><text x="288.1" y="88.7" font-size="16" font-weight="bold" text-anchor="middle" fill="#eea030">4</text>
<circle cx="111" cy="189.1" r="9.8" fill="none" stroke="#eea030" stroke-width="1.9"/><text x="111" y="194.5" font-size="16" font-weight="bold" text-anchor="middle" fill="#eea030">1</text>
<circle cx="207" cy="189.2" r="9.8" fill="none" stroke="#eea030" stroke-width="1.9"/><text x="207" y="194.6" font-size="16" font-weight="bold" text-anchor="middle" fill="#eea030">2</text>
<circle cx="252.5" cy="190" r="9.8" fill="none" stroke="#eea030" stroke-width="1.9"/><text x="252.5" y="195.4" font-size="16" font-weight="bold" text-anchor="middle" fill="#eea030">3</text>
<circle cx="287.9" cy="189.6" r="9.8" fill="none" stroke="#eea030" stroke-width="1.9"/><text x="287.9" y="195.0" font-size="16" font-weight="bold" text-anchor="middle" fill="#eea030">4</text>
<circle cx="110.2" cy="302.2" r="9.8" fill="none" stroke="#eea030" stroke-width="1.9"/><text x="110.2" y="307.6" font-size="16" font-weight="bold" text-anchor="middle" fill="#eea030">1</text>
<circle cx="205.9" cy="302.7" r="9.8" fill="none" stroke="#eea030" stroke-width="1.9"/><text x="205.9" y="308.1" font-size="16" font-weight="bold" text-anchor="middle" fill="#eea030">2</text>
<circle cx="251.1" cy="302.7" r="9.8" fill="none" stroke="#eea030" stroke-width="1.9"/><text x="251.1" y="308.1" font-size="16" font-weight="bold" text-anchor="middle" fill="#eea030">3</text>
<circle cx="288" cy="302.7" r="9.8" fill="none" stroke="#eea030" stroke-width="1.9"/><text x="288" y="308.1" font-size="16" font-weight="bold" text-anchor="middle" fill="#eea030">4</text>
<path d="M57.3 0.5H327.3V128.7H57.3ZM63.3 0.5v5.5M63.3 128.7v-5.5M75.3 0.5v5.5M75.3 128.7v-5.5M87.3 0.5v11M87.3 128.7v-11M99.3 0.5v5.5M99.3 128.7v-5.5M111.3 0.5v5.5M111.3 128.7v-5.5M123.3 0.5v5.5M123.3 128.7v-5.5M135.3 0.5v5.5M135.3 128.7v-5.5M147.3 0.5v11M147.3 128.7v-11M159.3 0.5v5.5M159.3 128.7v-5.5M171.3 0.5v5.5M171.3 128.7v-5.5M183.3 0.5v5.5M183.3 128.7v-5.5M195.3 0.5v5.5M195.3 128.7v-5.5M207.3 0.5v11M207.3 128.7v-11M219.3 0.5v5.5M219.3 128.7v-5.5M231.3 0.5v5.5M231.3 128.7v-5.5M243.3 0.5v5.5M243.3 128.7v-5.5M255.3 0.5v5.5M255.3 128.7v-5.5M267.3 0.5v11M267.3 128.7v-11M279.3 0.5v5.5M279.3 128.7v-5.5M291.3 0.5v5.5M291.3 128.7v-5.5M303.3 0.5v5.5M303.3 128.7v-5.5M315.3 0.5v5.5M315.3 128.7v-5.5M57.3 122.29h4M327.3 122.29h-4M57.3 115.88h8M327.3 115.88h-8M57.3 109.47h4M327.3 109.47h-4M57.3 103.06h4M327.3 103.06h-4M57.3 96.65h4M327.3 96.65h-4M57.3 90.24h8M327.3 90.24h-8M57.3 83.83h4M327.3 83.83h-4M57.3 77.42h4M327.3 77.42h-4M57.3 71.01h4M327.3 71.01h-4M57.3 64.6h8M327.3 64.6h-8M57.3 58.19h4M327.3 58.19h-4M57.3 51.78h4M327.3 51.78h-4M57.3 45.37h4M327.3 45.37h-4M57.3 38.96h8M327.3 38.96h-8M57.3 32.55h4M327.3 32.55h-4M57.3 26.14h4M327.3 26.14h-4M57.3 19.73h4M327.3 19.73h-4M57.3 13.32h8M327.3 13.32h-8M57.3 6.91h4M327.3 6.91h-4M57.3 128.7H327.3V256.3H57.3ZM63.3 128.7v5.5M63.3 256.3v-5.5M75.3 128.7v5.5M75.3 256.3v-5.5M87.3 128.7v11M87.3 256.3v-11M99.3 128.7v5.5M99.3 256.3v-5.5M111.3 128.7v5.5M111.3 256.3v-5.5M123.3 128.7v5.5M123.3 256.3v-5.5M135.3 128.7v5.5M135.3 256.3v-5.5M147.3 128.7v11M147.3 256.3v-11M159.3 128.7v5.5M159.3 256.3v-5.5M171.3 128.7v5.5M171.3 256.3v-5.5M183.3 128.7v5.5M183.3 256.3v-5.5M195.3 128.7v5.5M195.3 256.3v-5.5M207.3 128.7v11M207.3 256.3v-11M219.3 128.7v5.5M219.3 256.3v-5.5M231.3 128.7v5.5M231.3 256.3v-5.5M243.3 128.7v5.5M243.3 256.3v-5.5M255.3 128.7v5.5M255.3 256.3v-5.5M267.3 128.7v11M267.3 256.3v-11M279.3 128.7v5.5M279.3 256.3v-5.5M291.3 128.7v5.5M291.3 256.3v-5.5M303.3 128.7v5.5M303.3 256.3v-5.5M315.3 128.7v5.5M315.3 256.3v-5.5M57.3 250.5h4M327.3 250.5h-4M57.3 244.7h4M327.3 244.7h-4M57.3 238.9h4M327.3 238.9h-4M57.3 233.1h4M327.3 233.1h-4M57.3 227.3h8M327.3 227.3h-8M57.3 221.5h4M327.3 221.5h-4M57.3 215.7h4M327.3 215.7h-4M57.3 209.9h4M327.3 209.9h-4M57.3 204.1h4M327.3 204.1h-4M57.3 198.3h8M327.3 198.3h-8M57.3 192.5h4M327.3 192.5h-4M57.3 186.7h4M327.3 186.7h-4M57.3 180.9h4M327.3 180.9h-4M57.3 175.1h4M327.3 175.1h-4M57.3 169.3h8M327.3 169.3h-8M57.3 163.5h4M327.3 163.5h-4M57.3 157.7h4M327.3 157.7h-4M57.3 151.9h4M327.3 151.9h-4M57.3 146.1h4M327.3 146.1h-4M57.3 140.3h8M327.3 140.3h-8M57.3 134.5h4M327.3 134.5h-4M57.3 256.3H327.3V384.9H57.3ZM63.3 256.3v5.5M63.3 384.9v-5.5M75.3 256.3v5.5M75.3 384.9v-5.5M87.3 256.3v11M87.3 384.9v-11M99.3 256.3v5.5M99.3 384.9v-5.5M111.3 256.3v5.5M111.3 384.9v-5.5M123.3 256.3v5.5M123.3 384.9v-5.5M135.3 256.3v5.5M135.3 384.9v-5.5M147.3 256.3v11M147.3 384.9v-11M159.3 256.3v5.5M159.3 384.9v-5.5M171.3 256.3v5.5M171.3 384.9v-5.5M183.3 256.3v5.5M183.3 384.9v-5.5M195.3 256.3v5.5M195.3 384.9v-5.5M207.3 256.3v11M207.3 384.9v-11M219.3 256.3v5.5M219.3 384.9v-5.5M231.3 256.3v5.5M231.3 384.9v-5.5M243.3 256.3v5.5M243.3 384.9v-5.5M255.3 256.3v5.5M255.3 384.9v-5.5M267.3 256.3v11M267.3 384.9v-11M279.3 256.3v5.5M279.3 384.9v-5.5M291.3 256.3v5.5M291.3 384.9v-5.5M303.3 256.3v5.5M303.3 384.9v-5.5M315.3 256.3v5.5M315.3 384.9v-5.5M57.3 375.71h4M327.3 375.71h-4M57.3 366.53h8M327.3 366.53h-8M57.3 357.34h4M327.3 357.34h-4M57.3 348.16h4M327.3 348.16h-4M57.3 338.97h4M327.3 338.97h-4M57.3 329.79h4M327.3 329.79h-4M57.3 320.6h8M327.3 320.6h-8M57.3 311.41h4M327.3 311.41h-4M57.3 302.23h4M327.3 302.23h-4M57.3 293.04h4M327.3 293.04h-4M57.3 283.86h4M327.3 283.86h-4M57.3 274.67h8M327.3 274.67h-8M57.3 265.49h4M327.3 265.49h-4M57.3 384.9H327.3V511.8H57.3ZM63.3 384.9v5.5M63.3 511.8v-5.5M75.3 384.9v5.5M75.3 511.8v-5.5M87.3 384.9v11M87.3 511.8v-11M99.3 384.9v5.5M99.3 511.8v-5.5M111.3 384.9v5.5M111.3 511.8v-5.5M123.3 384.9v5.5M123.3 511.8v-5.5M135.3 384.9v5.5M135.3 511.8v-5.5M147.3 384.9v11M147.3 511.8v-11M159.3 384.9v5.5M159.3 511.8v-5.5M171.3 384.9v5.5M171.3 511.8v-5.5M183.3 384.9v5.5M183.3 511.8v-5.5M195.3 384.9v5.5M195.3 511.8v-5.5M207.3 384.9v11M207.3 511.8v-11M219.3 384.9v5.5M219.3 511.8v-5.5M231.3 384.9v5.5M231.3 511.8v-5.5M243.3 384.9v5.5M243.3 511.8v-5.5M255.3 384.9v5.5M255.3 511.8v-5.5M267.3 384.9v11M267.3 511.8v-11M279.3 384.9v5.5M279.3 511.8v-5.5M291.3 384.9v5.5M291.3 511.8v-5.5M303.3 384.9v5.5M303.3 511.8v-5.5M315.3 384.9v5.5M315.3 511.8v-5.5M57.3 506.72h4M327.3 506.72h-4M57.3 501.65h4M327.3 501.65h-4M57.3 496.57h4M327.3 496.57h-4M57.3 491.5h4M327.3 491.5h-4M57.3 486.42h8M327.3 486.42h-8M57.3 481.34h4M327.3 481.34h-4M57.3 476.27h4M327.3 476.27h-4M57.3 471.19h4M327.3 471.19h-4M57.3 466.12h4M327.3 466.12h-4M57.3 461.04h8M327.3 461.04h-8M57.3 455.96h4M327.3 455.96h-4M57.3 450.89h4M327.3 450.89h-4M57.3 445.81h4M327.3 445.81h-4M57.3 440.74h4M327.3 440.74h-4M57.3 435.66h8M327.3 435.66h-8M57.3 430.58h4M327.3 430.58h-4M57.3 425.51h4M327.3 425.51h-4M57.3 420.43h4M327.3 420.43h-4M57.3 415.36h4M327.3 415.36h-4M57.3 410.28h8M327.3 410.28h-8M57.3 405.2h4M327.3 405.2h-4M57.3 400.13h4M327.3 400.13h-4M57.3 395.05h4M327.3 395.05h-4M57.3 389.98h4M327.3 389.98h-4M327.3 128.7H598.5V256.3H327.3ZM340.86 128.7v5.5M340.86 256.3v-5.5M354.42 128.7v11M354.42 256.3v-11M367.98 128.7v5.5M367.98 256.3v-5.5M381.54 128.7v5.5M381.54 256.3v-5.5M395.1 128.7v5.5M395.1 256.3v-5.5M408.66 128.7v11M408.66 256.3v-11M422.22 128.7v5.5M422.22 256.3v-5.5M435.78 128.7v5.5M435.78 256.3v-5.5M449.34 128.7v5.5M449.34 256.3v-5.5M462.9 128.7v11M462.9 256.3v-11M476.46 128.7v5.5M476.46 256.3v-5.5M490.02 128.7v5.5M490.02 256.3v-5.5M503.58 128.7v5.5M503.58 256.3v-5.5M517.14 128.7v11M517.14 256.3v-11M530.7 128.7v5.5M530.7 256.3v-5.5M544.26 128.7v5.5M544.26 256.3v-5.5M557.82 128.7v5.5M557.82 256.3v-5.5M571.38 128.7v11M571.38 256.3v-11M584.94 128.7v5.5M584.94 256.3v-5.5M327.3 250.5h4M598.5 250.5h-4M327.3 244.7h4M598.5 244.7h-4M327.3 238.9h4M598.5 238.9h-4M327.3 233.1h4M598.5 233.1h-4M327.3 227.3h8M598.5 227.3h-8M327.3 221.5h4M598.5 221.5h-4M327.3 215.7h4M598.5 215.7h-4M327.3 209.9h4M598.5 209.9h-4M327.3 204.1h4M598.5 204.1h-4M327.3 198.3h8M598.5 198.3h-8M327.3 192.5h4M598.5 192.5h-4M327.3 186.7h4M598.5 186.7h-4M327.3 180.9h4M598.5 180.9h-4M327.3 175.1h4M598.5 175.1h-4M327.3 169.3h8M598.5 169.3h-8M327.3 163.5h4M598.5 163.5h-4M327.3 157.7h4M598.5 157.7h-4M327.3 151.9h4M598.5 151.9h-4M327.3 146.1h4M598.5 146.1h-4M327.3 140.3h8M598.5 140.3h-8M327.3 134.5h4M598.5 134.5h-4M327.3 256.3H598.5V384.9H327.3ZM340.86 256.3v5.5M340.86 384.9v-5.5M354.42 256.3v11M354.42 384.9v-11M367.98 256.3v5.5M367.98 384.9v-5.5M381.54 256.3v5.5M381.54 384.9v-5.5M395.1 256.3v5.5M395.1 384.9v-5.5M408.66 256.3v11M408.66 384.9v-11M422.22 256.3v5.5M422.22 384.9v-5.5M435.78 256.3v5.5M435.78 384.9v-5.5M449.34 256.3v5.5M449.34 384.9v-5.5M462.9 256.3v11M462.9 384.9v-11M476.46 256.3v5.5M476.46 384.9v-5.5M490.02 256.3v5.5M490.02 384.9v-5.5M503.58 256.3v5.5M503.58 384.9v-5.5M517.14 256.3v11M517.14 384.9v-11M530.7 256.3v5.5M530.7 384.9v-5.5M544.26 256.3v5.5M544.26 384.9v-5.5M557.82 256.3v5.5M557.82 384.9v-5.5M571.38 256.3v11M571.38 384.9v-11M584.94 256.3v5.5M584.94 384.9v-5.5M327.3 375.71h4M598.5 375.71h-4M327.3 366.53h8M598.5 366.53h-8M327.3 357.34h4M598.5 357.34h-4M327.3 348.16h4M598.5 348.16h-4M327.3 338.97h4M598.5 338.97h-4M327.3 329.79h4M598.5 329.79h-4M327.3 320.6h8M598.5 320.6h-8M327.3 311.41h4M598.5 311.41h-4M327.3 302.23h4M598.5 302.23h-4M327.3 293.04h4M598.5 293.04h-4M327.3 283.86h4M598.5 283.86h-4M327.3 274.67h8M598.5 274.67h-8M327.3 265.49h4M598.5 265.49h-4" fill="none" stroke="#3c3c3c" stroke-width="1.3"/>
<path d="M57.30 84.20 L327.30 84.20" fill="none" stroke="#cc1c1c" stroke-width="1.8"/>
<path d="M57.30 64.60 L297.50 64.60" fill="none" stroke="#eea030" stroke-width="2.0" stroke-dasharray="9.4 4.7" stroke-dashoffset="1.1"/>
<path d="M57.30 103.06 L231.10 103.06" fill="none" stroke="#eea030" stroke-width="2.0" stroke-dasharray="9.4 4.7" stroke-dashoffset="1.1"/>
<path d="M57.30 115.88 L279.70 115.88" fill="none" stroke="#eea030" stroke-width="2.0" stroke-dasharray="9.4 4.7" stroke-dashoffset="1.1"/>
<path d="M188.50 64.60 L188.50 103.06" fill="none" stroke="#eea030" stroke-width="1.8"/>
<path d="M231.10 64.60 L231.10 103.06" fill="none" stroke="#eea030" stroke-width="2.0" stroke-dasharray="9.4 4.7" stroke-dashoffset="2"/>
<path d="M279.70 64.60 L279.70 115.88" fill="none" stroke="#eea030" stroke-width="2.0" stroke-dasharray="9.4 4.7" stroke-dashoffset="2"/>
<path d="M297.50 64.60 L297.50 128.70" fill="none" stroke="#eea030" stroke-width="2.0" stroke-dasharray="9.4 4.7" stroke-dashoffset="2"/>
<path d="M207.30 0.50 L207.30 51.80" fill="none" stroke="#c81a1a" stroke-width="2.0" stroke-dasharray="9.6 4.3" stroke-dashoffset="0"/>
<path d="M207.30 51.80 L327.30 51.80" fill="none" stroke="#c81a1a" stroke-width="2.0" stroke-dasharray="9.6 4.3" stroke-dashoffset="0"/>
<path d="M57.30 178.30 L327.30 194.20" fill="none" stroke="#cc1c1c" stroke-width="1.8"/>
<path d="M57.30 163.50 L297.50 163.50" fill="none" stroke="#eea030" stroke-width="2.0" stroke-dasharray="9.4 4.7" stroke-dashoffset="1.1"/>
<path d="M57.30 215.70 L231.10 215.70" fill="none" stroke="#eea030" stroke-width="2.0" stroke-dasharray="9.4 4.7" stroke-dashoffset="1.1"/>
<path d="M57.30 233.10 L279.70 233.10" fill="none" stroke="#eea030" stroke-width="2.0" stroke-dasharray="9.4 4.7" stroke-dashoffset="1.1"/>
<path d="M188.50 163.50 L188.50 215.70" fill="none" stroke="#eea030" stroke-width="2.0" stroke-dasharray="9.4 4.7" stroke-dashoffset="2"/>
<path d="M231.10 163.50 L231.10 215.70" fill="none" stroke="#eea030" stroke-width="2.0" stroke-dasharray="9.4 4.7" stroke-dashoffset="2"/>
<path d="M279.70 163.50 L279.70 233.10" fill="none" stroke="#eea030" stroke-width="2.0" stroke-dasharray="9.4 4.7" stroke-dashoffset="2"/>
<path d="M297.50 163.50 L297.50 256.30" fill="none" stroke="#eea030" stroke-width="2.0" stroke-dasharray="9.4 4.7" stroke-dashoffset="2"/>
<path d="M57.30 286.30 L327.30 307.00" fill="none" stroke="#cc1c1c" stroke-width="1.8"/>
<path d="M57.30 274.67 L297.50 274.67" fill="none" stroke="#eea030" stroke-width="2.0" stroke-dasharray="9.4 4.7" stroke-dashoffset="1.1"/>
<path d="M57.30 329.79 L231.10 329.79" fill="none" stroke="#eea030" stroke-width="2.0" stroke-dasharray="9.4 4.7" stroke-dashoffset="1.1"/>
<path d="M57.30 348.16 L279.70 348.16" fill="none" stroke="#eea030" stroke-width="2.0" stroke-dasharray="9.4 4.7" stroke-dashoffset="1.1"/>
<path d="M188.50 274.67 L188.50 329.79" fill="none" stroke="#eea030" stroke-width="2.0" stroke-dasharray="9.4 4.7" stroke-dashoffset="2"/>
<path d="M231.10 274.67 L231.10 329.79" fill="none" stroke="#eea030" stroke-width="2.0" stroke-dasharray="9.4 4.7" stroke-dashoffset="2"/>
<path d="M279.70 274.67 L279.70 348.16" fill="none" stroke="#eea030" stroke-width="2.0" stroke-dasharray="9.4 4.7" stroke-dashoffset="2"/>
<path d="M297.50 274.67 L297.50 384.90" fill="none" stroke="#eea030" stroke-width="2.0" stroke-dasharray="9.4 4.7" stroke-dashoffset="2"/>
<path d="M57.30 418.50 L327.30 418.50" fill="none" stroke="#cc1c1c" stroke-width="1.8"/>
<path d="M381.54 215.70 L381.54 163.50 L462.90 163.50 L462.90 215.70 L381.54 215.70" fill="none" stroke="#eea030" stroke-width="2.0" stroke-dasharray="9.4 4.7" stroke-dashoffset="1.1"/>
<path d="M490.02 128.70 L490.02 192.50" fill="none" stroke="#c81a1a" stroke-width="2.0" stroke-dasharray="9.6 4.3" stroke-dashoffset="0"/>
<path d="M490.02 192.50 L598.50 192.50" fill="none" stroke="#c81a1a" stroke-width="2.0" stroke-dasharray="9.6 4.3" stroke-dashoffset="0"/>
<path d="M381.54 329.79 L381.54 274.67 L462.90 274.67 L462.90 329.79 L381.54 329.79" fill="none" stroke="#eea030" stroke-width="2.0" stroke-dasharray="9.4 4.7" stroke-dashoffset="1.1"/>
<path d="M490.02 256.30 L490.02 329.79" fill="none" stroke="#c81a1a" stroke-width="2.0" stroke-dasharray="9.6 4.3" stroke-dashoffset="0"/>
<path d="M490.02 329.79 L598.50 329.79" fill="none" stroke="#c81a1a" stroke-width="2.0" stroke-dasharray="9.6 4.3" stroke-dashoffset="0"/>
<g>
<text transform="translate(47.6 19.32) scale(1.16 1)" font-size="17.6" text-anchor="end">1</text>
<text transform="translate(47.6 44.96) scale(1.16 1)" font-size="17.6" text-anchor="end">0.8</text>
<text transform="translate(47.6 70.6) scale(1.16 1)" font-size="17.6" text-anchor="end">0.6</text>
<text transform="translate(47.6 96.24) scale(1.16 1)" font-size="17.6" text-anchor="end">0.4</text>
<text transform="translate(47.6 121.88) scale(1.16 1)" font-size="17.6" text-anchor="end">0.2</text>
<text transform="translate(47.6 146.3) scale(1.16 1)" font-size="17.6" text-anchor="end">2</text>
<text transform="translate(47.6 175.3) scale(1.16 1)" font-size="17.6" text-anchor="end">1.5</text>
<text transform="translate(47.6 204.3) scale(1.16 1)" font-size="17.6" text-anchor="end">1</text>
<text transform="translate(47.6 233.3) scale(1.16 1)" font-size="17.6" text-anchor="end">0.5</text>
<text transform="translate(47.6 262.3) scale(1.16 1)" font-size="17.6" text-anchor="end">0</text>
<text transform="translate(47.6 280.67) scale(1.16 1)" font-size="17.6" text-anchor="end">1</text>
<text transform="translate(47.6 326.6) scale(1.16 1)" font-size="17.6" text-anchor="end">0.5</text>
<text transform="translate(47.6 372.53) scale(1.16 1)" font-size="17.6" text-anchor="end">0</text>
<text transform="translate(47.6 416.28) scale(1.16 1)" font-size="17.6" text-anchor="end">2</text>
<text transform="translate(47.6 441.66) scale(1.16 1)" font-size="17.6" text-anchor="end">1.5</text>
<text transform="translate(47.6 467.04) scale(1.16 1)" font-size="17.6" text-anchor="end">1</text>
<text transform="translate(47.6 492.42) scale(1.16 1)" font-size="17.6" text-anchor="end">0.5</text>
<text transform="translate(47.6 517.8) scale(1.16 1)" font-size="17.6" text-anchor="end">0</text>
<text transform="translate(87.6 534.7) scale(1.2 1)" font-size="17.6" text-anchor="middle">19</text>
<text transform="translate(147.6 534.7) scale(1.2 1)" font-size="17.6" text-anchor="middle">20</text>
<text transform="translate(207.6 534.7) scale(1.2 1)" font-size="17.6" text-anchor="middle">21</text>
<text transform="translate(267.6 534.7) scale(1.2 1)" font-size="17.6" text-anchor="middle">22</text>
<text transform="translate(354.42 407) scale(1.16 1)" font-size="17.6" text-anchor="middle">0.2</text>
<text transform="translate(408.66 407) scale(1.16 1)" font-size="17.6" text-anchor="middle">0.4</text>
<text transform="translate(462.9 407) scale(1.16 1)" font-size="17.6" text-anchor="middle">0.6</text>
<text transform="translate(517.14 407) scale(1.16 1)" font-size="17.6" text-anchor="middle">0.8</text>
<text transform="translate(571.38 407) scale(1.16 1)" font-size="17.6" text-anchor="middle">1</text>
<text transform="translate(355.2 31.9) scale(1.09 1)" font-size="18">MS0451.6−0305</text>
<text transform="translate(507.9 31.9) scale(1.16 1)" font-size="18">z=0.540</text>
<text transform="translate(70.1 22.2) scale(1.22 1)" font-size="18.5">(a)</text>
<text transform="translate(70.6 245.3) scale(1.22 1)" font-size="18.5">(b)</text>
<text transform="translate(71.1 372.7) scale(1.22 1)" font-size="18.5">(c)</text>
<text transform="translate(70.8 500) scale(1.22 1)" font-size="18.5">(d)</text>
<text transform="translate(342.2 150) scale(1.22 1)" font-size="18.5">(e)</text>
<text transform="translate(343.8 277.7) scale(1.22 1)" font-size="18.5">(f)</text>
<text transform="translate(437.2 439.5) scale(1.16 1)" font-size="18.5">(i′−z′)</text>
<text transform="translate(13.8 64.6) rotate(-90) scale(1.14 1)" font-size="18.5" text-anchor="middle">(i′−z′)</text>
<text transform="translate(13.8 192.3) rotate(-90) scale(1.16 1)" font-size="18.5" text-anchor="middle">(r′−z′)</text>
<text transform="translate(13.8 325.2) rotate(-90) scale(1.14 1)" font-size="18.5" text-anchor="middle">(r′−i′)</text>
<text transform="translate(13.8 453.4) rotate(-90) scale(1.16 1)" font-size="18.5" text-anchor="middle">(g′−r′)</text>
<text transform="translate(174 568)" font-size="18.5">i′<tspan font-family="Liberation Sans, sans-serif" font-size="13" font-weight="bold" dy="3.8" dx="0.5">total</tspan></text>
</g>
</svg>
</body></html>
